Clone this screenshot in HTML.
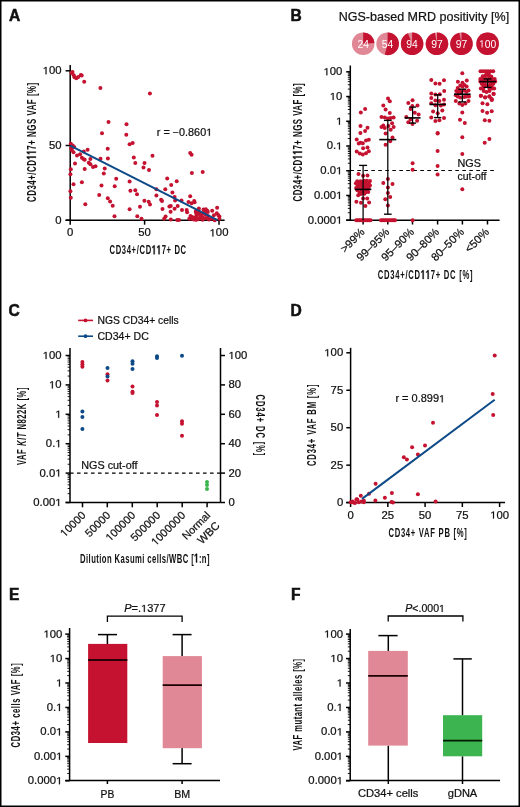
<!DOCTYPE html>
<html><head><meta charset="utf-8"><style>
html,body{margin:0;padding:0;background:#fff;}
svg{display:block;font-family:"Liberation Sans", sans-serif;}
.h1{fill-opacity:0;stroke-opacity:0;}
</style></head><body>
<svg width="520" height="807" viewBox="0 0 520 807" style="will-change:transform">
<rect width="520" height="807" fill="#fff"/>
<text x="9.00" y="20.60" font-size="15.6" text-anchor="start" font-weight="bold" fill="#111" style="stroke:#111;stroke-width:0.5">A</text>
<line x1="70.20" y1="65.00" x2="70.20" y2="220.20" stroke="#000" stroke-width="1.5" />
<line x1="65.60" y1="220.20" x2="224.60" y2="220.20" stroke="#000" stroke-width="1.5" />
<line x1="65.60" y1="220.20" x2="70.20" y2="220.20" stroke="#000" stroke-width="1.5" />
<text x="61.60" y="223.60" font-size="10.3" text-anchor="end" font-weight="normal" fill="#111" textLength="6.3" lengthAdjust="spacingAndGlyphs" style="stroke:#111;stroke-width:0.22">0</text>
<line x1="70.20" y1="220.20" x2="70.20" y2="224.70" stroke="#000" stroke-width="1.5" />
<text x="70.20" y="236.40" font-size="10.3" text-anchor="middle" font-weight="normal" fill="#111" textLength="6.3" lengthAdjust="spacingAndGlyphs" style="stroke:#111;stroke-width:0.22">0</text>
<line x1="65.60" y1="145.50" x2="70.20" y2="145.50" stroke="#000" stroke-width="1.5" />
<text x="61.60" y="148.90" font-size="10.3" text-anchor="end" font-weight="normal" fill="#111" textLength="12.6" lengthAdjust="spacingAndGlyphs" style="stroke:#111;stroke-width:0.22">50</text>
<line x1="144.60" y1="220.20" x2="144.60" y2="224.70" stroke="#000" stroke-width="1.5" />
<text x="144.60" y="236.40" font-size="10.3" text-anchor="middle" font-weight="normal" fill="#111" textLength="12.6" lengthAdjust="spacingAndGlyphs" style="stroke:#111;stroke-width:0.22">50</text>
<line x1="65.60" y1="70.80" x2="70.20" y2="70.80" stroke="#000" stroke-width="1.5" />
<text x="61.60" y="74.20" font-size="10.3" text-anchor="end" font-weight="normal" fill="#111" textLength="18.9" lengthAdjust="spacingAndGlyphs" style="stroke:#111;stroke-width:0.22"><tspan class="h1">1</tspan>00</text>
<line x1="219.00" y1="220.20" x2="219.00" y2="224.70" stroke="#000" stroke-width="1.5" />
<text x="219.00" y="236.40" font-size="10.3" text-anchor="middle" font-weight="normal" fill="#111" textLength="18.9" lengthAdjust="spacingAndGlyphs" style="stroke:#111;stroke-width:0.22"><tspan class="h1">1</tspan>00</text>
<text transform="translate(147.80,254.20) scale(0.6,1)" font-size="12.8" text-anchor="middle" font-weight="bold" fill="#111" textLength="127.83" lengthAdjust="spacing">CD34+/CD<tspan class="h1">1</tspan><tspan class="h1">1</tspan>7+ DC</text>
<text transform="translate(35.90,142.40) rotate(-90) scale(0.6,1)" font-size="13.2" text-anchor="middle" font-weight="bold" fill="#111" textLength="198.83" lengthAdjust="spacing">CD34+/CD<tspan class="h1">1</tspan><tspan class="h1">1</tspan>7+ NGS VAF [%]</text>
<text x="156.80" y="135.80" font-size="10.2" text-anchor="start" font-weight="normal" fill="#111" textLength="55.4" lengthAdjust="spacingAndGlyphs" style="stroke:#111;stroke-width:0.22">r = −0.860<tspan class="h1">1</tspan></text>
<circle cx="72.50" cy="72.00" r="2.0" fill="#C41230"/>
<circle cx="71.50" cy="72.90" r="2.0" fill="#C41230"/>
<circle cx="73.80" cy="75.20" r="2.0" fill="#C41230"/>
<circle cx="74.50" cy="77.30" r="2.0" fill="#C41230"/>
<circle cx="76.40" cy="78.20" r="2.0" fill="#C41230"/>
<circle cx="78.20" cy="77.10" r="2.0" fill="#C41230"/>
<circle cx="80.80" cy="75.00" r="2.0" fill="#C41230"/>
<circle cx="81.70" cy="75.50" r="2.0" fill="#C41230"/>
<circle cx="84.20" cy="81.70" r="2.0" fill="#C41230"/>
<circle cx="100.40" cy="87.90" r="2.0" fill="#C41230"/>
<circle cx="149.90" cy="93.40" r="2.0" fill="#C41230"/>
<circle cx="108.50" cy="122.00" r="2.0" fill="#C41230"/>
<circle cx="126.50" cy="124.20" r="2.0" fill="#C41230"/>
<circle cx="102.00" cy="133.30" r="2.0" fill="#C41230"/>
<circle cx="126.30" cy="134.80" r="2.0" fill="#C41230"/>
<circle cx="129.60" cy="144.20" r="2.0" fill="#C41230"/>
<circle cx="132.70" cy="143.00" r="2.0" fill="#C41230"/>
<circle cx="107.70" cy="148.80" r="2.0" fill="#C41230"/>
<circle cx="87.60" cy="149.70" r="2.0" fill="#C41230"/>
<circle cx="83.80" cy="151.50" r="2.0" fill="#C41230"/>
<circle cx="100.50" cy="158.70" r="2.0" fill="#C41230"/>
<circle cx="107.90" cy="158.60" r="2.0" fill="#C41230"/>
<circle cx="133.80" cy="157.60" r="2.0" fill="#C41230"/>
<circle cx="152.50" cy="155.80" r="2.0" fill="#C41230"/>
<circle cx="70.80" cy="143.80" r="2.0" fill="#C41230"/>
<circle cx="72.70" cy="145.40" r="2.0" fill="#C41230"/>
<circle cx="74.20" cy="146.90" r="2.0" fill="#C41230"/>
<circle cx="71.20" cy="148.50" r="2.0" fill="#C41230"/>
<circle cx="71.90" cy="150.00" r="2.0" fill="#C41230"/>
<circle cx="73.50" cy="152.30" r="2.0" fill="#C41230"/>
<circle cx="77.00" cy="155.40" r="2.0" fill="#C41230"/>
<circle cx="80.10" cy="154.20" r="2.0" fill="#C41230"/>
<circle cx="81.90" cy="157.70" r="2.0" fill="#C41230"/>
<circle cx="83.80" cy="159.20" r="2.0" fill="#C41230"/>
<circle cx="84.70" cy="159.70" r="2.0" fill="#C41230"/>
<circle cx="90.40" cy="158.90" r="2.0" fill="#C41230"/>
<circle cx="75.00" cy="163.40" r="2.0" fill="#C41230"/>
<circle cx="88.80" cy="162.80" r="2.0" fill="#C41230"/>
<circle cx="90.40" cy="164.20" r="2.0" fill="#C41230"/>
<circle cx="93.00" cy="166.90" r="2.0" fill="#C41230"/>
<circle cx="95.50" cy="166.20" r="2.0" fill="#C41230"/>
<circle cx="70.80" cy="169.20" r="2.0" fill="#C41230"/>
<circle cx="84.70" cy="168.90" r="2.0" fill="#C41230"/>
<circle cx="70.40" cy="174.20" r="2.0" fill="#C41230"/>
<circle cx="104.70" cy="168.50" r="2.0" fill="#C41230"/>
<circle cx="103.80" cy="173.50" r="2.0" fill="#C41230"/>
<circle cx="135.30" cy="163.10" r="2.0" fill="#C41230"/>
<circle cx="144.50" cy="162.90" r="2.0" fill="#C41230"/>
<circle cx="143.50" cy="167.50" r="2.0" fill="#C41230"/>
<circle cx="116.20" cy="178.80" r="2.0" fill="#C41230"/>
<circle cx="129.60" cy="181.50" r="2.0" fill="#C41230"/>
<circle cx="81.90" cy="182.30" r="2.0" fill="#C41230"/>
<circle cx="73.50" cy="184.30" r="2.0" fill="#C41230"/>
<circle cx="101.50" cy="185.50" r="2.0" fill="#C41230"/>
<circle cx="114.70" cy="186.20" r="2.0" fill="#C41230"/>
<circle cx="70.40" cy="191.20" r="2.0" fill="#C41230"/>
<circle cx="130.40" cy="190.80" r="2.0" fill="#C41230"/>
<circle cx="135.30" cy="190.30" r="2.0" fill="#C41230"/>
<circle cx="137.00" cy="194.20" r="2.0" fill="#C41230"/>
<circle cx="70.80" cy="197.80" r="2.0" fill="#C41230"/>
<circle cx="99.20" cy="195.10" r="2.0" fill="#C41230"/>
<circle cx="107.80" cy="198.20" r="2.0" fill="#C41230"/>
<circle cx="110.10" cy="201.50" r="2.0" fill="#C41230"/>
<circle cx="112.70" cy="205.70" r="2.0" fill="#C41230"/>
<circle cx="144.40" cy="200.70" r="2.0" fill="#C41230"/>
<circle cx="85.30" cy="204.30" r="2.0" fill="#C41230"/>
<circle cx="129.60" cy="209.20" r="2.0" fill="#C41230"/>
<circle cx="140.00" cy="206.80" r="2.0" fill="#C41230"/>
<circle cx="114.50" cy="216.20" r="2.0" fill="#C41230"/>
<circle cx="137.30" cy="216.20" r="2.0" fill="#C41230"/>
<circle cx="141.50" cy="218.80" r="2.0" fill="#C41230"/>
<circle cx="149.00" cy="170.00" r="2.0" fill="#C41230"/>
<circle cx="190.20" cy="153.00" r="2.0" fill="#C41230"/>
<circle cx="191.60" cy="154.70" r="2.0" fill="#C41230"/>
<circle cx="191.90" cy="172.90" r="2.0" fill="#C41230"/>
<circle cx="202.70" cy="172.00" r="2.0" fill="#C41230"/>
<circle cx="167.20" cy="178.40" r="2.0" fill="#C41230"/>
<circle cx="176.70" cy="181.20" r="2.0" fill="#C41230"/>
<circle cx="171.20" cy="185.00" r="2.0" fill="#C41230"/>
<circle cx="156.40" cy="189.30" r="2.0" fill="#C41230"/>
<circle cx="165.30" cy="189.30" r="2.0" fill="#C41230"/>
<circle cx="172.40" cy="192.60" r="2.0" fill="#C41230"/>
<circle cx="156.40" cy="195.40" r="2.0" fill="#C41230"/>
<circle cx="174.60" cy="197.10" r="2.0" fill="#C41230"/>
<circle cx="190.20" cy="196.20" r="2.0" fill="#C41230"/>
<circle cx="148.70" cy="201.80" r="2.0" fill="#C41230"/>
<circle cx="150.00" cy="204.40" r="2.0" fill="#C41230"/>
<circle cx="161.10" cy="199.70" r="2.0" fill="#C41230"/>
<circle cx="162.00" cy="200.90" r="2.0" fill="#C41230"/>
<circle cx="175.10" cy="200.60" r="2.0" fill="#C41230"/>
<circle cx="181.50" cy="200.60" r="2.0" fill="#C41230"/>
<circle cx="188.50" cy="202.00" r="2.0" fill="#C41230"/>
<circle cx="191.60" cy="203.20" r="2.0" fill="#C41230"/>
<circle cx="194.20" cy="201.10" r="2.0" fill="#C41230"/>
<circle cx="177.70" cy="206.10" r="2.0" fill="#C41230"/>
<circle cx="169.40" cy="206.60" r="2.0" fill="#C41230"/>
<circle cx="170.80" cy="206.10" r="2.0" fill="#C41230"/>
<circle cx="162.50" cy="208.90" r="2.0" fill="#C41230"/>
<circle cx="174.60" cy="208.70" r="2.0" fill="#C41230"/>
<circle cx="182.00" cy="210.10" r="2.0" fill="#C41230"/>
<circle cx="186.70" cy="210.10" r="2.0" fill="#C41230"/>
<circle cx="187.10" cy="212.30" r="2.0" fill="#C41230"/>
<circle cx="170.60" cy="211.80" r="2.0" fill="#C41230"/>
<circle cx="217.10" cy="207.80" r="2.0" fill="#C41230"/>
<circle cx="212.20" cy="210.70" r="2.0" fill="#C41230"/>
<circle cx="165.60" cy="216.50" r="2.0" fill="#C41230"/>
<circle cx="164.20" cy="218.70" r="2.0" fill="#C41230"/>
<circle cx="170.80" cy="219.60" r="2.0" fill="#C41230"/>
<circle cx="177.20" cy="220.00" r="2.0" fill="#C41230"/>
<circle cx="179.00" cy="220.00" r="2.0" fill="#C41230"/>
<circle cx="189.30" cy="218.80" r="2.0" fill="#C41230"/>
<circle cx="191.90" cy="217.00" r="2.0" fill="#C41230"/>
<circle cx="193.70" cy="219.60" r="2.0" fill="#C41230"/>
<circle cx="196.20" cy="219.60" r="2.0" fill="#C41230"/>
<circle cx="194.60" cy="202.30" r="2.0" fill="#C41230"/>
<circle cx="198.90" cy="208.60" r="2.0" fill="#C41230"/>
<circle cx="203.50" cy="209.50" r="2.0" fill="#C41230"/>
<circle cx="205.80" cy="209.20" r="2.0" fill="#C41230"/>
<circle cx="207.30" cy="210.70" r="2.0" fill="#C41230"/>
<circle cx="205.30" cy="211.20" r="2.0" fill="#C41230"/>
<circle cx="207.80" cy="212.10" r="2.0" fill="#C41230"/>
<circle cx="216.80" cy="213.30" r="2.0" fill="#C41230"/>
<circle cx="213.90" cy="215.30" r="2.0" fill="#C41230"/>
<circle cx="218.20" cy="215.00" r="2.0" fill="#C41230"/>
<circle cx="219.40" cy="216.40" r="2.0" fill="#C41230"/>
<circle cx="219.40" cy="218.70" r="2.0" fill="#C41230"/>
<circle cx="195.70" cy="211.80" r="2.0" fill="#C41230"/>
<circle cx="197.50" cy="213.50" r="2.0" fill="#C41230"/>
<circle cx="195.70" cy="217.60" r="2.0" fill="#C41230"/>
<circle cx="198.00" cy="219.30" r="2.0" fill="#C41230"/>
<circle cx="201.00" cy="217.00" r="2.0" fill="#C41230"/>
<circle cx="190.50" cy="216.00" r="2.0" fill="#C41230"/>
<circle cx="192.50" cy="219.00" r="2.0" fill="#C41230"/>
<circle cx="194.00" cy="217.50" r="2.0" fill="#C41230"/>
<circle cx="196.19" cy="210.69" r="2.0" fill="#C41230"/>
<circle cx="196.34" cy="213.65" r="2.0" fill="#C41230"/>
<circle cx="196.65" cy="216.01" r="2.0" fill="#C41230"/>
<circle cx="195.92" cy="219.68" r="2.0" fill="#C41230"/>
<circle cx="199.21" cy="211.90" r="2.0" fill="#C41230"/>
<circle cx="200.09" cy="215.03" r="2.0" fill="#C41230"/>
<circle cx="199.90" cy="217.94" r="2.0" fill="#C41230"/>
<circle cx="202.67" cy="213.33" r="2.0" fill="#C41230"/>
<circle cx="202.66" cy="216.95" r="2.0" fill="#C41230"/>
<circle cx="202.53" cy="219.72" r="2.0" fill="#C41230"/>
<circle cx="205.71" cy="214.76" r="2.0" fill="#C41230"/>
<circle cx="205.81" cy="218.19" r="2.0" fill="#C41230"/>
<circle cx="208.26" cy="216.24" r="2.0" fill="#C41230"/>
<circle cx="208.94" cy="219.58" r="2.0" fill="#C41230"/>
<circle cx="211.76" cy="218.61" r="2.0" fill="#C41230"/>
<circle cx="214.76" cy="220.16" r="2.0" fill="#C41230"/>
<line x1="70.20" y1="145.60" x2="217.50" y2="220.06" stroke="#0D4A87" stroke-width="2.0" />
<text x="290.60" y="20.60" font-size="15.6" text-anchor="start" font-weight="bold" fill="#111" style="stroke:#111;stroke-width:0.5">B</text>
<text x="338.70" y="20.60" font-size="13.1" text-anchor="start" font-weight="normal" fill="#111" textLength="170.5" lengthAdjust="spacingAndGlyphs" style="stroke:#111;stroke-width:0.22">NGS-based MRD positivity [%]</text>
<circle cx="363.2" cy="43.8" r="11.3" fill="#E08896"/>
<path d="M363.2,43.8 L363.2,32.5 A11.3,11.3 0 0 1 374.48,43.09 Z" fill="#C41230"/>
<text x="363.20" y="47.50" font-size="10.5" text-anchor="middle" font-weight="normal" fill="#fff" textLength="11.5" lengthAdjust="spacingAndGlyphs" style="stroke:none">24</text>
<circle cx="387.6" cy="43.8" r="11.3" fill="#E08896"/>
<path d="M387.6,43.8 L387.6,32.5 A11.3,11.3 0 1 1 384.79,54.74 Z" fill="#C41230"/>
<text x="387.60" y="47.50" font-size="10.5" text-anchor="middle" font-weight="normal" fill="#fff" textLength="11.5" lengthAdjust="spacingAndGlyphs" style="stroke:none">54</text>
<circle cx="412.1" cy="43.8" r="11.3" fill="#E08896"/>
<path d="M412.1,43.8 L412.1,32.5 A11.3,11.3 0 1 1 407.94,33.29 Z" fill="#C41230"/>
<text x="412.10" y="47.50" font-size="10.5" text-anchor="middle" font-weight="normal" fill="#fff" textLength="11.5" lengthAdjust="spacingAndGlyphs" style="stroke:none">94</text>
<circle cx="437.0" cy="43.8" r="11.3" fill="#E08896"/>
<path d="M437.0,43.8 L437.0,32.5 A11.3,11.3 0 1 1 434.88,32.70 Z" fill="#C41230"/>
<text x="437.00" y="47.50" font-size="10.5" text-anchor="middle" font-weight="normal" fill="#fff" textLength="11.5" lengthAdjust="spacingAndGlyphs" style="stroke:none">97</text>
<circle cx="461.5" cy="43.8" r="11.3" fill="#E08896"/>
<path d="M461.5,43.8 L461.5,32.5 A11.3,11.3 0 1 1 459.38,32.70 Z" fill="#C41230"/>
<text x="461.50" y="47.50" font-size="10.5" text-anchor="middle" font-weight="normal" fill="#fff" textLength="11.5" lengthAdjust="spacingAndGlyphs" style="stroke:none">97</text>
<circle cx="487.6" cy="43.8" r="11.3" fill="#E08896"/>
<circle cx="487.6" cy="43.8" r="11.3" fill="#C41230"/>
<text x="487.60" y="47.50" font-size="10.5" text-anchor="middle" font-weight="normal" fill="#fff" textLength="17.25" lengthAdjust="spacingAndGlyphs" style="stroke:none"><tspan class="h1">1</tspan>00</text>
<line x1="350.30" y1="65.50" x2="350.30" y2="220.20" stroke="#000" stroke-width="1.5" />
<line x1="346.20" y1="220.20" x2="499.60" y2="220.20" stroke="#000" stroke-width="1.5" />
<line x1="346.20" y1="71.80" x2="350.30" y2="71.80" stroke="#000" stroke-width="1.5" />
<text x="342.40" y="75.30" font-size="10.3" text-anchor="end" font-weight="normal" fill="#111" textLength="18.9" lengthAdjust="spacingAndGlyphs" style="stroke:#111;stroke-width:0.22"><tspan class="h1">1</tspan>00</text>
<line x1="347.80" y1="89.09" x2="350.30" y2="89.09" stroke="#000" stroke-width="0.9" />
<line x1="347.80" y1="84.73" x2="350.30" y2="84.73" stroke="#000" stroke-width="0.9" />
<line x1="347.80" y1="81.64" x2="350.30" y2="81.64" stroke="#000" stroke-width="0.9" />
<line x1="347.80" y1="79.24" x2="350.30" y2="79.24" stroke="#000" stroke-width="0.9" />
<line x1="347.80" y1="77.29" x2="350.30" y2="77.29" stroke="#000" stroke-width="0.9" />
<line x1="347.80" y1="75.63" x2="350.30" y2="75.63" stroke="#000" stroke-width="0.9" />
<line x1="347.80" y1="74.20" x2="350.30" y2="74.20" stroke="#000" stroke-width="0.9" />
<line x1="347.80" y1="72.93" x2="350.30" y2="72.93" stroke="#000" stroke-width="0.9" />
<line x1="346.20" y1="96.53" x2="350.30" y2="96.53" stroke="#000" stroke-width="1.5" />
<text x="342.40" y="100.03" font-size="10.3" text-anchor="end" font-weight="normal" fill="#111" textLength="12.6" lengthAdjust="spacingAndGlyphs" style="stroke:#111;stroke-width:0.22"><tspan class="h1">1</tspan>0</text>
<line x1="347.80" y1="113.82" x2="350.30" y2="113.82" stroke="#000" stroke-width="0.9" />
<line x1="347.80" y1="109.46" x2="350.30" y2="109.46" stroke="#000" stroke-width="0.9" />
<line x1="347.80" y1="106.37" x2="350.30" y2="106.37" stroke="#000" stroke-width="0.9" />
<line x1="347.80" y1="103.97" x2="350.30" y2="103.97" stroke="#000" stroke-width="0.9" />
<line x1="347.80" y1="102.02" x2="350.30" y2="102.02" stroke="#000" stroke-width="0.9" />
<line x1="347.80" y1="100.36" x2="350.30" y2="100.36" stroke="#000" stroke-width="0.9" />
<line x1="347.80" y1="98.93" x2="350.30" y2="98.93" stroke="#000" stroke-width="0.9" />
<line x1="347.80" y1="97.66" x2="350.30" y2="97.66" stroke="#000" stroke-width="0.9" />
<line x1="346.20" y1="121.26" x2="350.30" y2="121.26" stroke="#000" stroke-width="1.5" />
<text x="342.40" y="124.76" font-size="10.3" text-anchor="end" font-weight="normal" fill="#111" textLength="6.3" lengthAdjust="spacingAndGlyphs" style="stroke:#111;stroke-width:0.22"><tspan class="h1">1</tspan></text>
<line x1="347.80" y1="138.55" x2="350.30" y2="138.55" stroke="#000" stroke-width="0.9" />
<line x1="347.80" y1="134.19" x2="350.30" y2="134.19" stroke="#000" stroke-width="0.9" />
<line x1="347.80" y1="131.10" x2="350.30" y2="131.10" stroke="#000" stroke-width="0.9" />
<line x1="347.80" y1="128.70" x2="350.30" y2="128.70" stroke="#000" stroke-width="0.9" />
<line x1="347.80" y1="126.75" x2="350.30" y2="126.75" stroke="#000" stroke-width="0.9" />
<line x1="347.80" y1="125.09" x2="350.30" y2="125.09" stroke="#000" stroke-width="0.9" />
<line x1="347.80" y1="123.66" x2="350.30" y2="123.66" stroke="#000" stroke-width="0.9" />
<line x1="347.80" y1="122.39" x2="350.30" y2="122.39" stroke="#000" stroke-width="0.9" />
<line x1="346.20" y1="145.99" x2="350.30" y2="145.99" stroke="#000" stroke-width="1.5" />
<text x="342.40" y="149.49" font-size="10.3" text-anchor="end" font-weight="normal" fill="#111" textLength="15.75" lengthAdjust="spacingAndGlyphs" style="stroke:#111;stroke-width:0.22">0.<tspan class="h1">1</tspan></text>
<line x1="347.80" y1="163.28" x2="350.30" y2="163.28" stroke="#000" stroke-width="0.9" />
<line x1="347.80" y1="158.92" x2="350.30" y2="158.92" stroke="#000" stroke-width="0.9" />
<line x1="347.80" y1="155.83" x2="350.30" y2="155.83" stroke="#000" stroke-width="0.9" />
<line x1="347.80" y1="153.43" x2="350.30" y2="153.43" stroke="#000" stroke-width="0.9" />
<line x1="347.80" y1="151.48" x2="350.30" y2="151.48" stroke="#000" stroke-width="0.9" />
<line x1="347.80" y1="149.82" x2="350.30" y2="149.82" stroke="#000" stroke-width="0.9" />
<line x1="347.80" y1="148.39" x2="350.30" y2="148.39" stroke="#000" stroke-width="0.9" />
<line x1="347.80" y1="147.12" x2="350.30" y2="147.12" stroke="#000" stroke-width="0.9" />
<line x1="346.20" y1="170.72" x2="350.30" y2="170.72" stroke="#000" stroke-width="1.5" />
<text x="342.40" y="174.22" font-size="10.3" text-anchor="end" font-weight="normal" fill="#111" textLength="22.05" lengthAdjust="spacingAndGlyphs" style="stroke:#111;stroke-width:0.22">0.0<tspan class="h1">1</tspan></text>
<line x1="347.80" y1="188.01" x2="350.30" y2="188.01" stroke="#000" stroke-width="0.9" />
<line x1="347.80" y1="183.65" x2="350.30" y2="183.65" stroke="#000" stroke-width="0.9" />
<line x1="347.80" y1="180.56" x2="350.30" y2="180.56" stroke="#000" stroke-width="0.9" />
<line x1="347.80" y1="178.16" x2="350.30" y2="178.16" stroke="#000" stroke-width="0.9" />
<line x1="347.80" y1="176.21" x2="350.30" y2="176.21" stroke="#000" stroke-width="0.9" />
<line x1="347.80" y1="174.55" x2="350.30" y2="174.55" stroke="#000" stroke-width="0.9" />
<line x1="347.80" y1="173.12" x2="350.30" y2="173.12" stroke="#000" stroke-width="0.9" />
<line x1="347.80" y1="171.85" x2="350.30" y2="171.85" stroke="#000" stroke-width="0.9" />
<line x1="346.20" y1="195.45" x2="350.30" y2="195.45" stroke="#000" stroke-width="1.5" />
<text x="342.40" y="198.95" font-size="10.3" text-anchor="end" font-weight="normal" fill="#111" textLength="28.35" lengthAdjust="spacingAndGlyphs" style="stroke:#111;stroke-width:0.22">0.00<tspan class="h1">1</tspan></text>
<line x1="347.80" y1="212.74" x2="350.30" y2="212.74" stroke="#000" stroke-width="0.9" />
<line x1="347.80" y1="208.38" x2="350.30" y2="208.38" stroke="#000" stroke-width="0.9" />
<line x1="347.80" y1="205.29" x2="350.30" y2="205.29" stroke="#000" stroke-width="0.9" />
<line x1="347.80" y1="202.89" x2="350.30" y2="202.89" stroke="#000" stroke-width="0.9" />
<line x1="347.80" y1="200.94" x2="350.30" y2="200.94" stroke="#000" stroke-width="0.9" />
<line x1="347.80" y1="199.28" x2="350.30" y2="199.28" stroke="#000" stroke-width="0.9" />
<line x1="347.80" y1="197.85" x2="350.30" y2="197.85" stroke="#000" stroke-width="0.9" />
<line x1="347.80" y1="196.58" x2="350.30" y2="196.58" stroke="#000" stroke-width="0.9" />
<line x1="346.20" y1="220.18" x2="350.30" y2="220.18" stroke="#000" stroke-width="1.5" />
<text x="342.40" y="223.68" font-size="10.3" text-anchor="end" font-weight="normal" fill="#111" textLength="34.65" lengthAdjust="spacingAndGlyphs" style="stroke:#111;stroke-width:0.22">0.000<tspan class="h1">1</tspan></text>
<text transform="translate(302.00,142.40) rotate(-90) scale(0.6,1)" font-size="13.2" text-anchor="middle" font-weight="bold" fill="#111" textLength="197.17" lengthAdjust="spacing">CD34+/CD<tspan class="h1">1</tspan><tspan class="h1">1</tspan>7+ NGS VAF [%]</text>
<line x1="363.10" y1="220.20" x2="363.10" y2="224.50" stroke="#000" stroke-width="1.5" />
<line x1="387.80" y1="220.20" x2="387.80" y2="224.50" stroke="#000" stroke-width="1.5" />
<line x1="412.50" y1="220.20" x2="412.50" y2="224.50" stroke="#000" stroke-width="1.5" />
<line x1="437.60" y1="220.20" x2="437.60" y2="224.50" stroke="#000" stroke-width="1.5" />
<line x1="462.40" y1="220.20" x2="462.40" y2="224.50" stroke="#000" stroke-width="1.5" />
<line x1="487.50" y1="220.20" x2="487.50" y2="224.50" stroke="#000" stroke-width="1.5" />
<text transform="translate(365.40,232.80) rotate(-45)" font-size="11.2" text-anchor="end" font-weight="normal" fill="#111" style="stroke:#111;stroke-width:0.22">&gt;99%</text>
<text transform="translate(390.10,232.80) rotate(-45)" font-size="11.2" text-anchor="end" font-weight="normal" fill="#111" style="stroke:#111;stroke-width:0.22">99–95%</text>
<text transform="translate(414.80,232.80) rotate(-45)" font-size="11.2" text-anchor="end" font-weight="normal" fill="#111" style="stroke:#111;stroke-width:0.22">95–90%</text>
<text transform="translate(439.90,232.80) rotate(-45)" font-size="11.2" text-anchor="end" font-weight="normal" fill="#111" style="stroke:#111;stroke-width:0.22">90–80%</text>
<text transform="translate(464.70,232.80) rotate(-45)" font-size="11.2" text-anchor="end" font-weight="normal" fill="#111" style="stroke:#111;stroke-width:0.22">80–50%</text>
<text transform="translate(489.80,232.80) rotate(-45)" font-size="11.2" text-anchor="end" font-weight="normal" fill="#111" style="stroke:#111;stroke-width:0.22">&lt;50%</text>
<text transform="translate(425.20,279.00) scale(0.6,1)" font-size="12.8" text-anchor="middle" font-weight="bold" fill="#111" textLength="158.00" lengthAdjust="spacing">CD34+/CD<tspan class="h1">1</tspan><tspan class="h1">1</tspan>7+ DC [%]</text>
<line x1="350.30" y1="170.50" x2="496.50" y2="170.50" stroke="#000" stroke-width="1.2" stroke-dasharray="3.6 3.4"/>
<text x="457.50" y="167.30" font-size="10.3" text-anchor="start" font-weight="normal" fill="#111" textLength="23.5" lengthAdjust="spacingAndGlyphs" style="stroke:#111;stroke-width:0.22">NGS</text>
<text x="457.50" y="180.30" font-size="10.3" text-anchor="start" font-weight="normal" fill="#111" textLength="28.9" lengthAdjust="spacingAndGlyphs" style="stroke:#111;stroke-width:0.22">cut-off</text>
<circle cx="365.10" cy="108.90" r="2.0" fill="#C41230"/>
<circle cx="360.80" cy="112.50" r="2.0" fill="#C41230"/>
<circle cx="360.50" cy="126.00" r="2.0" fill="#C41230"/>
<circle cx="367.50" cy="127.70" r="2.0" fill="#C41230"/>
<circle cx="365.10" cy="131.10" r="2.0" fill="#C41230"/>
<circle cx="360.40" cy="132.90" r="2.0" fill="#C41230"/>
<circle cx="356.70" cy="139.60" r="2.0" fill="#C41230"/>
<circle cx="358.70" cy="143.60" r="2.0" fill="#C41230"/>
<circle cx="360.50" cy="142.70" r="2.0" fill="#C41230"/>
<circle cx="362.80" cy="143.30" r="2.0" fill="#C41230"/>
<circle cx="366.00" cy="140.40" r="2.0" fill="#C41230"/>
<circle cx="368.80" cy="139.80" r="2.0" fill="#C41230"/>
<circle cx="363.10" cy="148.20" r="2.0" fill="#C41230"/>
<circle cx="367.50" cy="147.50" r="2.0" fill="#C41230"/>
<circle cx="356.70" cy="151.60" r="2.0" fill="#C41230"/>
<circle cx="359.80" cy="153.60" r="2.0" fill="#C41230"/>
<circle cx="362.80" cy="154.40" r="2.0" fill="#C41230"/>
<circle cx="366.00" cy="153.30" r="2.0" fill="#C41230"/>
<circle cx="368.80" cy="151.30" r="2.0" fill="#C41230"/>
<circle cx="358.50" cy="173.90" r="2.0" fill="#C41230"/>
<circle cx="363.10" cy="175.80" r="2.0" fill="#C41230"/>
<circle cx="367.50" cy="175.40" r="2.0" fill="#C41230"/>
<circle cx="358.20" cy="195.20" r="2.0" fill="#C41230"/>
<circle cx="363.10" cy="198.60" r="2.0" fill="#C41230"/>
<circle cx="367.20" cy="198.40" r="2.0" fill="#C41230"/>
<circle cx="356.40" cy="201.80" r="2.0" fill="#C41230"/>
<circle cx="361.00" cy="202.80" r="2.0" fill="#C41230"/>
<circle cx="369.10" cy="202.50" r="2.0" fill="#C41230"/>
<circle cx="365.40" cy="206.10" r="2.0" fill="#C41230"/>
<circle cx="357.22" cy="181.18" r="2.0" fill="#C41230"/>
<circle cx="360.56" cy="181.26" r="2.0" fill="#C41230"/>
<circle cx="364.20" cy="180.76" r="2.0" fill="#C41230"/>
<circle cx="366.91" cy="180.83" r="2.0" fill="#C41230"/>
<circle cx="369.97" cy="180.96" r="2.0" fill="#C41230"/>
<circle cx="355.90" cy="183.18" r="2.0" fill="#C41230"/>
<circle cx="358.91" cy="183.23" r="2.0" fill="#C41230"/>
<circle cx="362.08" cy="183.35" r="2.0" fill="#C41230"/>
<circle cx="365.57" cy="183.54" r="2.0" fill="#C41230"/>
<circle cx="368.85" cy="183.56" r="2.0" fill="#C41230"/>
<circle cx="357.49" cy="185.89" r="2.0" fill="#C41230"/>
<circle cx="360.64" cy="185.40" r="2.0" fill="#C41230"/>
<circle cx="364.09" cy="185.88" r="2.0" fill="#C41230"/>
<circle cx="367.42" cy="185.64" r="2.0" fill="#C41230"/>
<circle cx="369.97" cy="185.43" r="2.0" fill="#C41230"/>
<circle cx="356.17" cy="187.94" r="2.0" fill="#C41230"/>
<circle cx="358.73" cy="187.64" r="2.0" fill="#C41230"/>
<circle cx="362.48" cy="188.19" r="2.0" fill="#C41230"/>
<circle cx="365.17" cy="188.08" r="2.0" fill="#C41230"/>
<circle cx="368.63" cy="187.69" r="2.0" fill="#C41230"/>
<circle cx="357.34" cy="190.36" r="2.0" fill="#C41230"/>
<circle cx="361.10" cy="189.93" r="2.0" fill="#C41230"/>
<circle cx="364.19" cy="189.93" r="2.0" fill="#C41230"/>
<circle cx="367.57" cy="190.10" r="2.0" fill="#C41230"/>
<circle cx="359.50" cy="192.69" r="2.0" fill="#C41230"/>
<circle cx="362.50" cy="192.70" r="2.0" fill="#C41230"/>
<circle cx="365.65" cy="192.15" r="2.0" fill="#C41230"/>
<circle cx="368.28" cy="192.12" r="2.0" fill="#C41230"/>
<circle cx="360.76" cy="193.94" r="2.0" fill="#C41230"/>
<circle cx="364.39" cy="193.79" r="2.0" fill="#C41230"/>
<circle cx="356.20" cy="220.20" r="2.0" fill="#C41230"/>
<circle cx="357.80" cy="220.20" r="2.0" fill="#C41230"/>
<circle cx="359.40" cy="220.20" r="2.0" fill="#C41230"/>
<circle cx="361.00" cy="220.20" r="2.0" fill="#C41230"/>
<circle cx="362.60" cy="220.20" r="2.0" fill="#C41230"/>
<circle cx="364.20" cy="220.20" r="2.0" fill="#C41230"/>
<circle cx="365.80" cy="220.20" r="2.0" fill="#C41230"/>
<circle cx="367.40" cy="220.20" r="2.0" fill="#C41230"/>
<circle cx="369.00" cy="220.20" r="2.0" fill="#C41230"/>
<circle cx="370.50" cy="220.20" r="2.0" fill="#C41230"/>
<circle cx="389.80" cy="101.20" r="2.0" fill="#C41230"/>
<circle cx="388.00" cy="98.50" r="2.0" fill="#C41230"/>
<circle cx="383.30" cy="105.50" r="2.0" fill="#C41230"/>
<circle cx="385.60" cy="109.50" r="2.0" fill="#C41230"/>
<circle cx="389.80" cy="112.90" r="2.0" fill="#C41230"/>
<circle cx="381.50" cy="117.10" r="2.0" fill="#C41230"/>
<circle cx="384.80" cy="117.50" r="2.0" fill="#C41230"/>
<circle cx="387.90" cy="118.50" r="2.0" fill="#C41230"/>
<circle cx="390.70" cy="117.90" r="2.0" fill="#C41230"/>
<circle cx="393.60" cy="117.50" r="2.0" fill="#C41230"/>
<circle cx="392.10" cy="123.30" r="2.0" fill="#C41230"/>
<circle cx="383.30" cy="125.60" r="2.0" fill="#C41230"/>
<circle cx="381.50" cy="127.10" r="2.0" fill="#C41230"/>
<circle cx="384.80" cy="127.90" r="2.0" fill="#C41230"/>
<circle cx="388.40" cy="126.00" r="2.0" fill="#C41230"/>
<circle cx="390.70" cy="129.80" r="2.0" fill="#C41230"/>
<circle cx="393.60" cy="127.10" r="2.0" fill="#C41230"/>
<circle cx="385.60" cy="133.40" r="2.0" fill="#C41230"/>
<circle cx="392.50" cy="137.50" r="2.0" fill="#C41230"/>
<circle cx="390.20" cy="141.30" r="2.0" fill="#C41230"/>
<circle cx="385.60" cy="144.80" r="2.0" fill="#C41230"/>
<circle cx="387.90" cy="179.00" r="2.0" fill="#C41230"/>
<circle cx="383.30" cy="183.10" r="2.0" fill="#C41230"/>
<circle cx="392.50" cy="184.00" r="2.0" fill="#C41230"/>
<circle cx="387.90" cy="187.50" r="2.0" fill="#C41230"/>
<circle cx="387.90" cy="193.10" r="2.0" fill="#C41230"/>
<circle cx="390.20" cy="197.10" r="2.0" fill="#C41230"/>
<circle cx="385.30" cy="199.20" r="2.0" fill="#C41230"/>
<circle cx="387.90" cy="205.60" r="2.0" fill="#C41230"/>
<circle cx="381.00" cy="220.20" r="2.0" fill="#C41230"/>
<circle cx="382.60" cy="220.20" r="2.0" fill="#C41230"/>
<circle cx="384.20" cy="220.20" r="2.0" fill="#C41230"/>
<circle cx="385.80" cy="220.20" r="2.0" fill="#C41230"/>
<circle cx="387.40" cy="220.20" r="2.0" fill="#C41230"/>
<circle cx="389.00" cy="220.20" r="2.0" fill="#C41230"/>
<circle cx="390.60" cy="220.20" r="2.0" fill="#C41230"/>
<circle cx="392.20" cy="220.20" r="2.0" fill="#C41230"/>
<circle cx="393.80" cy="220.20" r="2.0" fill="#C41230"/>
<circle cx="395.00" cy="220.20" r="2.0" fill="#C41230"/>
<circle cx="412.50" cy="100.20" r="2.0" fill="#C41230"/>
<circle cx="408.30" cy="102.90" r="2.0" fill="#C41230"/>
<circle cx="417.50" cy="105.50" r="2.0" fill="#C41230"/>
<circle cx="412.30" cy="106.00" r="2.0" fill="#C41230"/>
<circle cx="410.60" cy="109.00" r="2.0" fill="#C41230"/>
<circle cx="414.80" cy="112.70" r="2.0" fill="#C41230"/>
<circle cx="418.60" cy="114.40" r="2.0" fill="#C41230"/>
<circle cx="406.30" cy="117.10" r="2.0" fill="#C41230"/>
<circle cx="410.60" cy="119.40" r="2.0" fill="#C41230"/>
<circle cx="417.10" cy="120.70" r="2.0" fill="#C41230"/>
<circle cx="408.30" cy="122.20" r="2.0" fill="#C41230"/>
<circle cx="412.50" cy="124.00" r="2.0" fill="#C41230"/>
<circle cx="412.60" cy="163.20" r="2.0" fill="#C41230"/>
<circle cx="412.60" cy="169.80" r="2.0" fill="#C41230"/>
<circle cx="412.60" cy="220.20" r="2.0" fill="#C41230"/>
<circle cx="431.30" cy="80.00" r="2.0" fill="#C41230"/>
<circle cx="444.00" cy="80.20" r="2.0" fill="#C41230"/>
<circle cx="435.40" cy="83.60" r="2.0" fill="#C41230"/>
<circle cx="439.60" cy="83.80" r="2.0" fill="#C41230"/>
<circle cx="444.20" cy="91.10" r="2.0" fill="#C41230"/>
<circle cx="431.30" cy="93.60" r="2.0" fill="#C41230"/>
<circle cx="435.40" cy="94.50" r="2.0" fill="#C41230"/>
<circle cx="439.80" cy="94.20" r="2.0" fill="#C41230"/>
<circle cx="431.30" cy="98.00" r="2.0" fill="#C41230"/>
<circle cx="435.40" cy="100.60" r="2.0" fill="#C41230"/>
<circle cx="439.40" cy="101.10" r="2.0" fill="#C41230"/>
<circle cx="444.00" cy="99.80" r="2.0" fill="#C41230"/>
<circle cx="431.30" cy="103.20" r="2.0" fill="#C41230"/>
<circle cx="435.40" cy="105.20" r="2.0" fill="#C41230"/>
<circle cx="440.90" cy="105.50" r="2.0" fill="#C41230"/>
<circle cx="444.00" cy="104.60" r="2.0" fill="#C41230"/>
<circle cx="433.10" cy="111.50" r="2.0" fill="#C41230"/>
<circle cx="437.70" cy="113.30" r="2.0" fill="#C41230"/>
<circle cx="442.30" cy="110.40" r="2.0" fill="#C41230"/>
<circle cx="431.30" cy="117.60" r="2.0" fill="#C41230"/>
<circle cx="435.40" cy="121.10" r="2.0" fill="#C41230"/>
<circle cx="439.40" cy="120.20" r="2.0" fill="#C41230"/>
<circle cx="444.00" cy="117.90" r="2.0" fill="#C41230"/>
<circle cx="437.70" cy="132.90" r="2.0" fill="#C41230"/>
<circle cx="437.60" cy="133.50" r="2.0" fill="#C41230"/>
<circle cx="437.60" cy="150.90" r="2.0" fill="#C41230"/>
<circle cx="437.60" cy="165.90" r="2.0" fill="#C41230"/>
<circle cx="437.60" cy="174.50" r="2.0" fill="#C41230"/>
<circle cx="462.30" cy="73.20" r="2.0" fill="#C41230"/>
<circle cx="457.90" cy="81.70" r="2.0" fill="#C41230"/>
<circle cx="466.80" cy="80.50" r="2.0" fill="#C41230"/>
<circle cx="462.50" cy="82.70" r="2.0" fill="#C41230"/>
<circle cx="460.30" cy="85.60" r="2.0" fill="#C41230"/>
<circle cx="464.40" cy="85.10" r="2.0" fill="#C41230"/>
<circle cx="466.60" cy="86.50" r="2.0" fill="#C41230"/>
<circle cx="462.50" cy="86.50" r="2.0" fill="#C41230"/>
<circle cx="457.70" cy="88.00" r="2.0" fill="#C41230"/>
<circle cx="456.30" cy="90.90" r="2.0" fill="#C41230"/>
<circle cx="468.50" cy="90.60" r="2.0" fill="#C41230"/>
<circle cx="459.60" cy="90.40" r="2.0" fill="#C41230"/>
<circle cx="463.90" cy="90.40" r="2.0" fill="#C41230"/>
<circle cx="466.30" cy="91.80" r="2.0" fill="#C41230"/>
<circle cx="460.60" cy="92.30" r="2.0" fill="#C41230"/>
<circle cx="458.20" cy="92.30" r="2.0" fill="#C41230"/>
<circle cx="455.80" cy="95.20" r="2.0" fill="#C41230"/>
<circle cx="457.70" cy="96.60" r="2.0" fill="#C41230"/>
<circle cx="460.10" cy="97.60" r="2.0" fill="#C41230"/>
<circle cx="464.40" cy="97.10" r="2.0" fill="#C41230"/>
<circle cx="466.80" cy="96.40" r="2.0" fill="#C41230"/>
<circle cx="469.00" cy="96.60" r="2.0" fill="#C41230"/>
<circle cx="455.80" cy="101.00" r="2.0" fill="#C41230"/>
<circle cx="468.50" cy="101.00" r="2.0" fill="#C41230"/>
<circle cx="459.40" cy="103.40" r="2.0" fill="#C41230"/>
<circle cx="462.30" cy="105.00" r="2.0" fill="#C41230"/>
<circle cx="465.40" cy="103.40" r="2.0" fill="#C41230"/>
<circle cx="462.30" cy="112.50" r="2.0" fill="#C41230"/>
<circle cx="460.00" cy="119.70" r="2.0" fill="#C41230"/>
<circle cx="464.80" cy="122.90" r="2.0" fill="#C41230"/>
<circle cx="480.50" cy="71.30" r="2.0" fill="#C41230"/>
<circle cx="483.00" cy="71.30" r="2.0" fill="#C41230"/>
<circle cx="485.50" cy="71.30" r="2.0" fill="#C41230"/>
<circle cx="488.00" cy="71.30" r="2.0" fill="#C41230"/>
<circle cx="490.50" cy="71.30" r="2.0" fill="#C41230"/>
<circle cx="493.20" cy="71.30" r="2.0" fill="#C41230"/>
<circle cx="486.50" cy="73.90" r="2.0" fill="#C41230"/>
<circle cx="488.90" cy="74.10" r="2.0" fill="#C41230"/>
<circle cx="482.70" cy="76.30" r="2.0" fill="#C41230"/>
<circle cx="485.10" cy="75.80" r="2.0" fill="#C41230"/>
<circle cx="488.50" cy="76.00" r="2.0" fill="#C41230"/>
<circle cx="491.30" cy="76.50" r="2.0" fill="#C41230"/>
<circle cx="480.30" cy="79.00" r="2.0" fill="#C41230"/>
<circle cx="483.20" cy="79.00" r="2.0" fill="#C41230"/>
<circle cx="486.00" cy="79.00" r="2.0" fill="#C41230"/>
<circle cx="489.40" cy="79.00" r="2.0" fill="#C41230"/>
<circle cx="492.30" cy="79.00" r="2.0" fill="#C41230"/>
<circle cx="494.70" cy="79.00" r="2.0" fill="#C41230"/>
<circle cx="480.30" cy="81.50" r="2.0" fill="#C41230"/>
<circle cx="483.50" cy="81.50" r="2.0" fill="#C41230"/>
<circle cx="486.50" cy="81.50" r="2.0" fill="#C41230"/>
<circle cx="489.50" cy="81.50" r="2.0" fill="#C41230"/>
<circle cx="492.50" cy="81.50" r="2.0" fill="#C41230"/>
<circle cx="495.20" cy="81.50" r="2.0" fill="#C41230"/>
<circle cx="481.70" cy="83.80" r="2.0" fill="#C41230"/>
<circle cx="484.60" cy="83.80" r="2.0" fill="#C41230"/>
<circle cx="490.40" cy="83.80" r="2.0" fill="#C41230"/>
<circle cx="493.30" cy="83.80" r="2.0" fill="#C41230"/>
<circle cx="483.20" cy="85.80" r="2.0" fill="#C41230"/>
<circle cx="485.60" cy="85.80" r="2.0" fill="#C41230"/>
<circle cx="489.40" cy="85.80" r="2.0" fill="#C41230"/>
<circle cx="491.80" cy="85.80" r="2.0" fill="#C41230"/>
<circle cx="480.80" cy="88.60" r="2.0" fill="#C41230"/>
<circle cx="483.20" cy="88.60" r="2.0" fill="#C41230"/>
<circle cx="489.40" cy="88.60" r="2.0" fill="#C41230"/>
<circle cx="491.80" cy="88.60" r="2.0" fill="#C41230"/>
<circle cx="494.20" cy="88.60" r="2.0" fill="#C41230"/>
<circle cx="483.70" cy="91.00" r="2.0" fill="#C41230"/>
<circle cx="486.50" cy="91.90" r="2.0" fill="#C41230"/>
<circle cx="489.40" cy="91.00" r="2.0" fill="#C41230"/>
<circle cx="480.80" cy="95.80" r="2.0" fill="#C41230"/>
<circle cx="485.10" cy="97.20" r="2.0" fill="#C41230"/>
<circle cx="489.40" cy="96.30" r="2.0" fill="#C41230"/>
<circle cx="493.50" cy="93.80" r="2.0" fill="#C41230"/>
<circle cx="491.60" cy="99.10" r="2.0" fill="#C41230"/>
<circle cx="481.00" cy="95.80" r="2.0" fill="#C41230"/>
<circle cx="485.10" cy="97.50" r="2.0" fill="#C41230"/>
<circle cx="489.40" cy="96.70" r="2.0" fill="#C41230"/>
<circle cx="493.70" cy="94.00" r="2.0" fill="#C41230"/>
<circle cx="491.70" cy="99.60" r="2.0" fill="#C41230"/>
<circle cx="482.50" cy="103.30" r="2.0" fill="#C41230"/>
<circle cx="487.40" cy="104.20" r="2.0" fill="#C41230"/>
<circle cx="482.50" cy="111.10" r="2.0" fill="#C41230"/>
<circle cx="487.10" cy="112.80" r="2.0" fill="#C41230"/>
<circle cx="491.70" cy="111.30" r="2.0" fill="#C41230"/>
<circle cx="484.80" cy="120.30" r="2.0" fill="#C41230"/>
<circle cx="489.40" cy="120.80" r="2.0" fill="#C41230"/>
<circle cx="489.40" cy="139.00" r="2.0" fill="#C41230"/>
<circle cx="484.70" cy="142.80" r="2.0" fill="#C41230"/>
<circle cx="491.80" cy="100.00" r="2.0" fill="#C41230"/>
<circle cx="462.30" cy="137.20" r="2.0" fill="#C41230"/>
<circle cx="462.30" cy="153.90" r="2.0" fill="#C41230"/>
<circle cx="462.30" cy="189.20" r="2.0" fill="#C41230"/>
<line x1="363.10" y1="165.40" x2="363.10" y2="220.20" stroke="#000" stroke-width="1.25" />
<line x1="359.10" y1="165.40" x2="367.10" y2="165.40" stroke="#000" stroke-width="1.35" />
<line x1="354.80" y1="189.40" x2="371.40" y2="189.40" stroke="#000" stroke-width="1.6" />
<line x1="387.80" y1="120.40" x2="387.80" y2="214.20" stroke="#000" stroke-width="1.25" />
<line x1="383.95" y1="120.40" x2="391.65" y2="120.40" stroke="#000" stroke-width="1.35" />
<line x1="383.95" y1="214.20" x2="391.65" y2="214.20" stroke="#000" stroke-width="1.35" />
<line x1="379.30" y1="139.60" x2="396.30" y2="139.60" stroke="#000" stroke-width="1.6" />
<line x1="412.60" y1="107.10" x2="412.60" y2="123.10" stroke="#000" stroke-width="1.25" />
<line x1="409.10" y1="107.10" x2="416.10" y2="107.10" stroke="#000" stroke-width="1.35" />
<line x1="409.10" y1="123.10" x2="416.10" y2="123.10" stroke="#000" stroke-width="1.35" />
<line x1="404.70" y1="117.90" x2="420.50" y2="117.90" stroke="#000" stroke-width="1.6" />
<line x1="437.70" y1="94.80" x2="437.70" y2="117.60" stroke="#000" stroke-width="1.25" />
<line x1="434.10" y1="94.80" x2="441.30" y2="94.80" stroke="#000" stroke-width="1.35" />
<line x1="434.10" y1="117.60" x2="441.30" y2="117.60" stroke="#000" stroke-width="1.35" />
<line x1="429.50" y1="104.40" x2="445.90" y2="104.40" stroke="#000" stroke-width="1.6" />
<line x1="462.30" y1="89.20" x2="462.30" y2="101.90" stroke="#000" stroke-width="1.25" />
<line x1="458.45" y1="89.20" x2="466.15" y2="89.20" stroke="#000" stroke-width="1.35" />
<line x1="458.45" y1="101.90" x2="466.15" y2="101.90" stroke="#000" stroke-width="1.35" />
<line x1="454.00" y1="94.20" x2="470.60" y2="94.20" stroke="#000" stroke-width="1.6" />
<line x1="487.60" y1="78.90" x2="487.60" y2="87.40" stroke="#000" stroke-width="1.25" />
<line x1="483.65" y1="78.90" x2="491.55" y2="78.90" stroke="#000" stroke-width="1.35" />
<line x1="483.65" y1="87.40" x2="491.55" y2="87.40" stroke="#000" stroke-width="1.35" />
<line x1="479.30" y1="81.60" x2="495.90" y2="81.60" stroke="#000" stroke-width="1.6" />
<text x="8.60" y="316.10" font-size="15.6" text-anchor="start" font-weight="bold" fill="#111" style="stroke:#111;stroke-width:0.5">C</text>
<line x1="78.20" y1="320.40" x2="93.00" y2="320.40" stroke="#C41230" stroke-width="1.6" />
<circle cx="85.50" cy="320.40" r="1.9" fill="#C41230"/>
<line x1="78.20" y1="336.20" x2="93.00" y2="336.20" stroke="#0D4A87" stroke-width="1.6" />
<circle cx="85.50" cy="336.20" r="1.9" fill="#0D4A87"/>
<text x="97.50" y="323.90" font-size="10.4" text-anchor="start" font-weight="normal" fill="#111" textLength="81.3" lengthAdjust="spacingAndGlyphs" style="stroke:#111;stroke-width:0.22">NGS CD34+ cells</text>
<text x="97.50" y="339.50" font-size="10.4" text-anchor="start" font-weight="normal" fill="#111" textLength="51.3" lengthAdjust="spacingAndGlyphs" style="stroke:#111;stroke-width:0.22">CD34+ DC</text>
<line x1="70.00" y1="348.00" x2="70.00" y2="502.50" stroke="#000" stroke-width="1.5" />
<line x1="220.50" y1="348.00" x2="220.50" y2="502.50" stroke="#000" stroke-width="1.5" />
<line x1="65.60" y1="502.50" x2="220.50" y2="502.50" stroke="#000" stroke-width="1.5" />
<line x1="65.60" y1="355.50" x2="70.00" y2="355.50" stroke="#000" stroke-width="1.5" />
<text x="61.60" y="359.00" font-size="10.3" text-anchor="end" font-weight="normal" fill="#111" textLength="18.9" lengthAdjust="spacingAndGlyphs" style="stroke:#111;stroke-width:0.22"><tspan class="h1">1</tspan>00</text>
<line x1="67.60" y1="376.05" x2="70.00" y2="376.05" stroke="#000" stroke-width="0.9" />
<line x1="67.60" y1="370.87" x2="70.00" y2="370.87" stroke="#000" stroke-width="0.9" />
<line x1="67.60" y1="367.20" x2="70.00" y2="367.20" stroke="#000" stroke-width="0.9" />
<line x1="67.60" y1="364.35" x2="70.00" y2="364.35" stroke="#000" stroke-width="0.9" />
<line x1="67.60" y1="362.02" x2="70.00" y2="362.02" stroke="#000" stroke-width="0.9" />
<line x1="67.60" y1="360.05" x2="70.00" y2="360.05" stroke="#000" stroke-width="0.9" />
<line x1="67.60" y1="358.35" x2="70.00" y2="358.35" stroke="#000" stroke-width="0.9" />
<line x1="67.60" y1="356.85" x2="70.00" y2="356.85" stroke="#000" stroke-width="0.9" />
<line x1="65.60" y1="384.90" x2="70.00" y2="384.90" stroke="#000" stroke-width="1.5" />
<text x="61.60" y="388.40" font-size="10.3" text-anchor="end" font-weight="normal" fill="#111" textLength="12.6" lengthAdjust="spacingAndGlyphs" style="stroke:#111;stroke-width:0.22"><tspan class="h1">1</tspan>0</text>
<line x1="67.60" y1="405.45" x2="70.00" y2="405.45" stroke="#000" stroke-width="0.9" />
<line x1="67.60" y1="400.27" x2="70.00" y2="400.27" stroke="#000" stroke-width="0.9" />
<line x1="67.60" y1="396.60" x2="70.00" y2="396.60" stroke="#000" stroke-width="0.9" />
<line x1="67.60" y1="393.75" x2="70.00" y2="393.75" stroke="#000" stroke-width="0.9" />
<line x1="67.60" y1="391.42" x2="70.00" y2="391.42" stroke="#000" stroke-width="0.9" />
<line x1="67.60" y1="389.45" x2="70.00" y2="389.45" stroke="#000" stroke-width="0.9" />
<line x1="67.60" y1="387.75" x2="70.00" y2="387.75" stroke="#000" stroke-width="0.9" />
<line x1="67.60" y1="386.25" x2="70.00" y2="386.25" stroke="#000" stroke-width="0.9" />
<line x1="65.60" y1="414.30" x2="70.00" y2="414.30" stroke="#000" stroke-width="1.5" />
<text x="61.60" y="417.80" font-size="10.3" text-anchor="end" font-weight="normal" fill="#111" textLength="6.3" lengthAdjust="spacingAndGlyphs" style="stroke:#111;stroke-width:0.22"><tspan class="h1">1</tspan></text>
<line x1="67.60" y1="434.85" x2="70.00" y2="434.85" stroke="#000" stroke-width="0.9" />
<line x1="67.60" y1="429.67" x2="70.00" y2="429.67" stroke="#000" stroke-width="0.9" />
<line x1="67.60" y1="426.00" x2="70.00" y2="426.00" stroke="#000" stroke-width="0.9" />
<line x1="67.60" y1="423.15" x2="70.00" y2="423.15" stroke="#000" stroke-width="0.9" />
<line x1="67.60" y1="420.82" x2="70.00" y2="420.82" stroke="#000" stroke-width="0.9" />
<line x1="67.60" y1="418.85" x2="70.00" y2="418.85" stroke="#000" stroke-width="0.9" />
<line x1="67.60" y1="417.15" x2="70.00" y2="417.15" stroke="#000" stroke-width="0.9" />
<line x1="67.60" y1="415.65" x2="70.00" y2="415.65" stroke="#000" stroke-width="0.9" />
<line x1="65.60" y1="443.70" x2="70.00" y2="443.70" stroke="#000" stroke-width="1.5" />
<text x="61.60" y="447.20" font-size="10.3" text-anchor="end" font-weight="normal" fill="#111" textLength="15.75" lengthAdjust="spacingAndGlyphs" style="stroke:#111;stroke-width:0.22">0.<tspan class="h1">1</tspan></text>
<line x1="67.60" y1="464.25" x2="70.00" y2="464.25" stroke="#000" stroke-width="0.9" />
<line x1="67.60" y1="459.07" x2="70.00" y2="459.07" stroke="#000" stroke-width="0.9" />
<line x1="67.60" y1="455.40" x2="70.00" y2="455.40" stroke="#000" stroke-width="0.9" />
<line x1="67.60" y1="452.55" x2="70.00" y2="452.55" stroke="#000" stroke-width="0.9" />
<line x1="67.60" y1="450.22" x2="70.00" y2="450.22" stroke="#000" stroke-width="0.9" />
<line x1="67.60" y1="448.25" x2="70.00" y2="448.25" stroke="#000" stroke-width="0.9" />
<line x1="67.60" y1="446.55" x2="70.00" y2="446.55" stroke="#000" stroke-width="0.9" />
<line x1="67.60" y1="445.05" x2="70.00" y2="445.05" stroke="#000" stroke-width="0.9" />
<line x1="65.60" y1="473.10" x2="70.00" y2="473.10" stroke="#000" stroke-width="1.5" />
<text x="61.60" y="476.60" font-size="10.3" text-anchor="end" font-weight="normal" fill="#111" textLength="22.05" lengthAdjust="spacingAndGlyphs" style="stroke:#111;stroke-width:0.22">0.0<tspan class="h1">1</tspan></text>
<line x1="67.60" y1="493.65" x2="70.00" y2="493.65" stroke="#000" stroke-width="0.9" />
<line x1="67.60" y1="488.47" x2="70.00" y2="488.47" stroke="#000" stroke-width="0.9" />
<line x1="67.60" y1="484.80" x2="70.00" y2="484.80" stroke="#000" stroke-width="0.9" />
<line x1="67.60" y1="481.95" x2="70.00" y2="481.95" stroke="#000" stroke-width="0.9" />
<line x1="67.60" y1="479.62" x2="70.00" y2="479.62" stroke="#000" stroke-width="0.9" />
<line x1="67.60" y1="477.65" x2="70.00" y2="477.65" stroke="#000" stroke-width="0.9" />
<line x1="67.60" y1="475.95" x2="70.00" y2="475.95" stroke="#000" stroke-width="0.9" />
<line x1="67.60" y1="474.45" x2="70.00" y2="474.45" stroke="#000" stroke-width="0.9" />
<line x1="65.60" y1="502.50" x2="70.00" y2="502.50" stroke="#000" stroke-width="1.5" />
<text x="61.60" y="506.00" font-size="10.3" text-anchor="end" font-weight="normal" fill="#111" textLength="28.35" lengthAdjust="spacingAndGlyphs" style="stroke:#111;stroke-width:0.22">0.00<tspan class="h1">1</tspan></text>
<line x1="220.50" y1="355.50" x2="225.00" y2="355.50" stroke="#000" stroke-width="1.5" />
<text x="228.50" y="359.00" font-size="10.3" text-anchor="start" font-weight="normal" fill="#111" textLength="18.9" lengthAdjust="spacingAndGlyphs" style="stroke:#111;stroke-width:0.22"><tspan class="h1">1</tspan>00</text>
<line x1="220.50" y1="384.90" x2="225.00" y2="384.90" stroke="#000" stroke-width="1.5" />
<text x="228.50" y="388.40" font-size="10.3" text-anchor="start" font-weight="normal" fill="#111" textLength="12.6" lengthAdjust="spacingAndGlyphs" style="stroke:#111;stroke-width:0.22">80</text>
<line x1="220.50" y1="414.30" x2="225.00" y2="414.30" stroke="#000" stroke-width="1.5" />
<text x="228.50" y="417.80" font-size="10.3" text-anchor="start" font-weight="normal" fill="#111" textLength="12.6" lengthAdjust="spacingAndGlyphs" style="stroke:#111;stroke-width:0.22">60</text>
<line x1="220.50" y1="443.70" x2="225.00" y2="443.70" stroke="#000" stroke-width="1.5" />
<text x="228.50" y="447.20" font-size="10.3" text-anchor="start" font-weight="normal" fill="#111" textLength="12.6" lengthAdjust="spacingAndGlyphs" style="stroke:#111;stroke-width:0.22">40</text>
<line x1="220.50" y1="473.10" x2="225.00" y2="473.10" stroke="#000" stroke-width="1.5" />
<text x="228.50" y="476.60" font-size="10.3" text-anchor="start" font-weight="normal" fill="#111" textLength="12.6" lengthAdjust="spacingAndGlyphs" style="stroke:#111;stroke-width:0.22">20</text>
<line x1="220.50" y1="502.50" x2="225.00" y2="502.50" stroke="#000" stroke-width="1.5" />
<text x="228.50" y="506.00" font-size="10.3" text-anchor="start" font-weight="normal" fill="#111" textLength="6.3" lengthAdjust="spacingAndGlyphs" style="stroke:#111;stroke-width:0.22">0</text>
<text transform="translate(255.90,425.00) rotate(90) scale(0.6,1)" font-size="12.8" text-anchor="middle" font-weight="bold" fill="#111" textLength="101.67" lengthAdjust="spacing">CD34+ DC [%]</text>
<text transform="translate(26.10,426.30) rotate(-90) scale(0.6,1)" font-size="12.8" text-anchor="middle" font-weight="bold" fill="#111" textLength="129.33" lengthAdjust="spacing">VAF <tspan font-style="italic">KIT</tspan> N822K [%]</text>
<line x1="70.00" y1="473.20" x2="220.50" y2="473.20" stroke="#000" stroke-width="1.2" stroke-dasharray="3.6 3.4"/>
<text x="81.30" y="468.80" font-size="10.3" text-anchor="start" font-weight="normal" fill="#111" textLength="56.2" lengthAdjust="spacingAndGlyphs" style="stroke:#111;stroke-width:0.22">NGS cut-off</text>
<line x1="82.50" y1="502.50" x2="82.50" y2="507.30" stroke="#000" stroke-width="1.5" />
<line x1="107.30" y1="502.50" x2="107.30" y2="507.30" stroke="#000" stroke-width="1.5" />
<line x1="132.30" y1="502.50" x2="132.30" y2="507.30" stroke="#000" stroke-width="1.5" />
<line x1="157.20" y1="502.50" x2="157.20" y2="507.30" stroke="#000" stroke-width="1.5" />
<line x1="182.20" y1="502.50" x2="182.20" y2="507.30" stroke="#000" stroke-width="1.5" />
<line x1="207.10" y1="502.50" x2="207.10" y2="507.30" stroke="#000" stroke-width="1.5" />
<text transform="translate(86.30,516.00) rotate(-45)" font-size="11" text-anchor="end" font-weight="normal" fill="#111" style="stroke:#111;stroke-width:0.22"><tspan class="h1">1</tspan>0000</text>
<text transform="translate(111.10,516.00) rotate(-45)" font-size="11" text-anchor="end" font-weight="normal" fill="#111" style="stroke:#111;stroke-width:0.22">50000</text>
<text transform="translate(136.10,516.00) rotate(-45)" font-size="11" text-anchor="end" font-weight="normal" fill="#111" style="stroke:#111;stroke-width:0.22"><tspan class="h1">1</tspan>00000</text>
<text transform="translate(161.00,516.00) rotate(-45)" font-size="11" text-anchor="end" font-weight="normal" fill="#111" style="stroke:#111;stroke-width:0.22">500000</text>
<text transform="translate(186.00,516.00) rotate(-45)" font-size="11" text-anchor="end" font-weight="normal" fill="#111" style="stroke:#111;stroke-width:0.22"><tspan class="h1">1</tspan>000000</text>
<text transform="translate(210.90,516.00) rotate(-45)" font-size="10.7" text-anchor="end" font-weight="normal" fill="#111" style="stroke:#111;stroke-width:0.22">Normal</text>
<text transform="translate(220.50,526.20) rotate(-45)" font-size="11.2" text-anchor="end" font-weight="normal" fill="#111" style="stroke:#111;stroke-width:0.22">WBC</text>
<text transform="translate(144.80,562.50) scale(0.6,1)" font-size="12.8" text-anchor="middle" font-weight="bold" fill="#111" textLength="215.83" lengthAdjust="spacing">Dilution Kasumi cells/WBC [<tspan class="h1">1</tspan>:n]</text>
<circle cx="82.40" cy="362.10" r="2.0" fill="#C41230"/>
<circle cx="82.40" cy="364.40" r="2.0" fill="#C41230"/>
<circle cx="82.40" cy="366.70" r="2.0" fill="#C41230"/>
<circle cx="107.50" cy="374.20" r="2.0" fill="#C41230"/>
<circle cx="107.50" cy="380.50" r="2.0" fill="#C41230"/>
<circle cx="132.50" cy="386.50" r="2.0" fill="#C41230"/>
<circle cx="132.50" cy="391.70" r="2.0" fill="#C41230"/>
<circle cx="132.50" cy="393.00" r="2.0" fill="#C41230"/>
<circle cx="157.00" cy="402.00" r="2.0" fill="#C41230"/>
<circle cx="157.00" cy="405.50" r="2.0" fill="#C41230"/>
<circle cx="157.00" cy="415.00" r="2.0" fill="#C41230"/>
<circle cx="182.00" cy="421.20" r="2.0" fill="#C41230"/>
<circle cx="182.00" cy="423.70" r="2.0" fill="#C41230"/>
<circle cx="182.00" cy="435.70" r="2.0" fill="#C41230"/>
<circle cx="82.40" cy="411.40" r="2.0" fill="#0D4A87"/>
<circle cx="82.40" cy="417.10" r="2.0" fill="#0D4A87"/>
<circle cx="82.40" cy="429.10" r="2.0" fill="#0D4A87"/>
<circle cx="107.50" cy="368.00" r="2.0" fill="#0D4A87"/>
<circle cx="107.50" cy="376.50" r="2.0" fill="#0D4A87"/>
<circle cx="132.50" cy="361.20" r="2.0" fill="#0D4A87"/>
<circle cx="132.50" cy="363.70" r="2.0" fill="#0D4A87"/>
<circle cx="132.50" cy="369.00" r="2.0" fill="#0D4A87"/>
<circle cx="157.00" cy="356.20" r="2.0" fill="#0D4A87"/>
<circle cx="157.00" cy="358.00" r="2.0" fill="#0D4A87"/>
<circle cx="182.00" cy="355.70" r="2.0" fill="#0D4A87"/>
<circle cx="207.00" cy="482.00" r="2.0" fill="#3CB44F"/>
<circle cx="207.00" cy="485.00" r="2.0" fill="#3CB44F"/>
<circle cx="207.00" cy="489.00" r="2.0" fill="#3CB44F"/>
<text x="290.50" y="315.80" font-size="15.6" text-anchor="start" font-weight="bold" fill="#111" style="stroke:#111;stroke-width:0.5">D</text>
<line x1="350.60" y1="347.80" x2="350.60" y2="502.60" stroke="#000" stroke-width="1.5" />
<line x1="346.20" y1="502.60" x2="505.00" y2="502.60" stroke="#000" stroke-width="1.5" />
<line x1="346.30" y1="502.60" x2="350.60" y2="502.60" stroke="#000" stroke-width="1.5" />
<text x="343.20" y="506.10" font-size="10.3" text-anchor="end" font-weight="normal" fill="#111" textLength="6.3" lengthAdjust="spacingAndGlyphs" style="stroke:#111;stroke-width:0.22">0</text>
<line x1="350.60" y1="502.60" x2="350.60" y2="507.00" stroke="#000" stroke-width="1.5" />
<text x="350.60" y="518.60" font-size="10.3" text-anchor="middle" font-weight="normal" fill="#111" textLength="6.3" lengthAdjust="spacingAndGlyphs" style="stroke:#111;stroke-width:0.22">0</text>
<line x1="346.30" y1="465.15" x2="350.60" y2="465.15" stroke="#000" stroke-width="1.5" />
<text x="343.20" y="468.65" font-size="10.3" text-anchor="end" font-weight="normal" fill="#111" textLength="12.6" lengthAdjust="spacingAndGlyphs" style="stroke:#111;stroke-width:0.22">25</text>
<line x1="387.85" y1="502.60" x2="387.85" y2="507.00" stroke="#000" stroke-width="1.5" />
<text x="387.85" y="518.60" font-size="10.3" text-anchor="middle" font-weight="normal" fill="#111" textLength="12.6" lengthAdjust="spacingAndGlyphs" style="stroke:#111;stroke-width:0.22">25</text>
<line x1="346.30" y1="427.70" x2="350.60" y2="427.70" stroke="#000" stroke-width="1.5" />
<text x="343.20" y="431.20" font-size="10.3" text-anchor="end" font-weight="normal" fill="#111" textLength="12.6" lengthAdjust="spacingAndGlyphs" style="stroke:#111;stroke-width:0.22">50</text>
<line x1="425.10" y1="502.60" x2="425.10" y2="507.00" stroke="#000" stroke-width="1.5" />
<text x="425.10" y="518.60" font-size="10.3" text-anchor="middle" font-weight="normal" fill="#111" textLength="12.6" lengthAdjust="spacingAndGlyphs" style="stroke:#111;stroke-width:0.22">50</text>
<line x1="346.30" y1="390.25" x2="350.60" y2="390.25" stroke="#000" stroke-width="1.5" />
<text x="343.20" y="393.75" font-size="10.3" text-anchor="end" font-weight="normal" fill="#111" textLength="12.6" lengthAdjust="spacingAndGlyphs" style="stroke:#111;stroke-width:0.22">75</text>
<line x1="462.35" y1="502.60" x2="462.35" y2="507.00" stroke="#000" stroke-width="1.5" />
<text x="462.35" y="518.60" font-size="10.3" text-anchor="middle" font-weight="normal" fill="#111" textLength="12.6" lengthAdjust="spacingAndGlyphs" style="stroke:#111;stroke-width:0.22">75</text>
<line x1="346.30" y1="352.80" x2="350.60" y2="352.80" stroke="#000" stroke-width="1.5" />
<text x="343.20" y="356.30" font-size="10.3" text-anchor="end" font-weight="normal" fill="#111" textLength="18.9" lengthAdjust="spacingAndGlyphs" style="stroke:#111;stroke-width:0.22"><tspan class="h1">1</tspan>00</text>
<line x1="499.60" y1="502.60" x2="499.60" y2="507.00" stroke="#000" stroke-width="1.5" />
<text x="499.60" y="518.60" font-size="10.3" text-anchor="middle" font-weight="normal" fill="#111" textLength="18.9" lengthAdjust="spacingAndGlyphs" style="stroke:#111;stroke-width:0.22"><tspan class="h1">1</tspan>00</text>
<text transform="translate(315.90,425.30) rotate(-90) scale(0.6,1)" font-size="12.8" text-anchor="middle" font-weight="bold" fill="#111" textLength="135.83" lengthAdjust="spacing">CD34+ VAF BM [%]</text>
<text transform="translate(427.60,536.90) scale(0.6,1)" font-size="12.8" text-anchor="middle" font-weight="bold" fill="#111" textLength="130.67" lengthAdjust="spacing">CD34+ VAF PB [%]</text>
<text x="395.40" y="402.30" font-size="10.2" text-anchor="start" font-weight="normal" fill="#111" textLength="49.7" lengthAdjust="spacingAndGlyphs" style="stroke:#111;stroke-width:0.22">r = 0.899<tspan class="h1">1</tspan></text>
<circle cx="350.80" cy="502.30" r="2.0" fill="#C41230"/>
<circle cx="352.70" cy="501.50" r="2.0" fill="#C41230"/>
<circle cx="355.00" cy="503.10" r="2.0" fill="#C41230"/>
<circle cx="356.50" cy="499.20" r="2.0" fill="#C41230"/>
<circle cx="358.80" cy="502.30" r="2.0" fill="#C41230"/>
<circle cx="360.80" cy="495.80" r="2.0" fill="#C41230"/>
<circle cx="361.50" cy="501.50" r="2.0" fill="#C41230"/>
<circle cx="363.80" cy="500.80" r="2.0" fill="#C41230"/>
<circle cx="363.80" cy="502.30" r="2.0" fill="#C41230"/>
<circle cx="369.00" cy="493.70" r="2.0" fill="#C41230"/>
<circle cx="375.60" cy="483.80" r="2.0" fill="#C41230"/>
<circle cx="375.40" cy="500.40" r="2.0" fill="#C41230"/>
<circle cx="384.90" cy="497.70" r="2.0" fill="#C41230"/>
<circle cx="391.90" cy="492.90" r="2.0" fill="#C41230"/>
<circle cx="391.50" cy="501.90" r="2.0" fill="#C41230"/>
<circle cx="393.00" cy="502.50" r="2.0" fill="#C41230"/>
<circle cx="403.80" cy="457.30" r="2.0" fill="#C41230"/>
<circle cx="406.90" cy="459.60" r="2.0" fill="#C41230"/>
<circle cx="412.10" cy="447.30" r="2.0" fill="#C41230"/>
<circle cx="417.90" cy="454.40" r="2.0" fill="#C41230"/>
<circle cx="425.00" cy="445.40" r="2.0" fill="#C41230"/>
<circle cx="417.90" cy="494.20" r="2.0" fill="#C41230"/>
<circle cx="435.60" cy="501.50" r="2.0" fill="#C41230"/>
<circle cx="494.70" cy="355.60" r="2.0" fill="#C41230"/>
<circle cx="492.70" cy="394.00" r="2.0" fill="#C41230"/>
<circle cx="493.20" cy="414.90" r="2.0" fill="#C41230"/>
<circle cx="433.00" cy="422.70" r="2.0" fill="#C41230"/>
<circle cx="357.30" cy="499.60" r="2.0" fill="#C41230"/>
<circle cx="353.50" cy="502.60" r="2.0" fill="#C41230"/>
<line x1="362.00" y1="498.90" x2="494.70" y2="399.70" stroke="#0D4A87" stroke-width="2.0" />
<text x="8.90" y="599.90" font-size="15.6" text-anchor="start" font-weight="bold" fill="#111" style="stroke:#111;stroke-width:0.5">E</text>
<line x1="69.60" y1="628.00" x2="69.60" y2="780.50" stroke="#000" stroke-width="1.5" />
<line x1="65.30" y1="780.50" x2="220.00" y2="780.50" stroke="#000" stroke-width="1.5" />
<line x1="65.30" y1="634.10" x2="69.60" y2="634.10" stroke="#000" stroke-width="1.5" />
<text x="62.40" y="637.60" font-size="10.3" text-anchor="end" font-weight="normal" fill="#111" textLength="18.9" lengthAdjust="spacingAndGlyphs" style="stroke:#111;stroke-width:0.22"><tspan class="h1">1</tspan>00</text>
<line x1="67.20" y1="651.19" x2="69.60" y2="651.19" stroke="#000" stroke-width="0.9" />
<line x1="67.20" y1="646.88" x2="69.60" y2="646.88" stroke="#000" stroke-width="0.9" />
<line x1="67.20" y1="643.83" x2="69.60" y2="643.83" stroke="#000" stroke-width="0.9" />
<line x1="67.20" y1="641.46" x2="69.60" y2="641.46" stroke="#000" stroke-width="0.9" />
<line x1="67.20" y1="639.52" x2="69.60" y2="639.52" stroke="#000" stroke-width="0.9" />
<line x1="67.20" y1="637.89" x2="69.60" y2="637.89" stroke="#000" stroke-width="0.9" />
<line x1="67.20" y1="636.47" x2="69.60" y2="636.47" stroke="#000" stroke-width="0.9" />
<line x1="67.20" y1="635.22" x2="69.60" y2="635.22" stroke="#000" stroke-width="0.9" />
<line x1="65.30" y1="658.55" x2="69.60" y2="658.55" stroke="#000" stroke-width="1.5" />
<text x="62.40" y="662.05" font-size="10.3" text-anchor="end" font-weight="normal" fill="#111" textLength="12.6" lengthAdjust="spacingAndGlyphs" style="stroke:#111;stroke-width:0.22"><tspan class="h1">1</tspan>0</text>
<line x1="67.20" y1="675.64" x2="69.60" y2="675.64" stroke="#000" stroke-width="0.9" />
<line x1="67.20" y1="671.33" x2="69.60" y2="671.33" stroke="#000" stroke-width="0.9" />
<line x1="67.20" y1="668.28" x2="69.60" y2="668.28" stroke="#000" stroke-width="0.9" />
<line x1="67.20" y1="665.91" x2="69.60" y2="665.91" stroke="#000" stroke-width="0.9" />
<line x1="67.20" y1="663.97" x2="69.60" y2="663.97" stroke="#000" stroke-width="0.9" />
<line x1="67.20" y1="662.34" x2="69.60" y2="662.34" stroke="#000" stroke-width="0.9" />
<line x1="67.20" y1="660.92" x2="69.60" y2="660.92" stroke="#000" stroke-width="0.9" />
<line x1="67.20" y1="659.67" x2="69.60" y2="659.67" stroke="#000" stroke-width="0.9" />
<line x1="65.30" y1="683.00" x2="69.60" y2="683.00" stroke="#000" stroke-width="1.5" />
<text x="62.40" y="686.50" font-size="10.3" text-anchor="end" font-weight="normal" fill="#111" textLength="6.3" lengthAdjust="spacingAndGlyphs" style="stroke:#111;stroke-width:0.22"><tspan class="h1">1</tspan></text>
<line x1="67.20" y1="700.09" x2="69.60" y2="700.09" stroke="#000" stroke-width="0.9" />
<line x1="67.20" y1="695.78" x2="69.60" y2="695.78" stroke="#000" stroke-width="0.9" />
<line x1="67.20" y1="692.73" x2="69.60" y2="692.73" stroke="#000" stroke-width="0.9" />
<line x1="67.20" y1="690.36" x2="69.60" y2="690.36" stroke="#000" stroke-width="0.9" />
<line x1="67.20" y1="688.42" x2="69.60" y2="688.42" stroke="#000" stroke-width="0.9" />
<line x1="67.20" y1="686.79" x2="69.60" y2="686.79" stroke="#000" stroke-width="0.9" />
<line x1="67.20" y1="685.37" x2="69.60" y2="685.37" stroke="#000" stroke-width="0.9" />
<line x1="67.20" y1="684.12" x2="69.60" y2="684.12" stroke="#000" stroke-width="0.9" />
<line x1="65.30" y1="707.45" x2="69.60" y2="707.45" stroke="#000" stroke-width="1.5" />
<text x="62.40" y="710.95" font-size="10.3" text-anchor="end" font-weight="normal" fill="#111" textLength="15.75" lengthAdjust="spacingAndGlyphs" style="stroke:#111;stroke-width:0.22">0.<tspan class="h1">1</tspan></text>
<line x1="67.20" y1="724.54" x2="69.60" y2="724.54" stroke="#000" stroke-width="0.9" />
<line x1="67.20" y1="720.23" x2="69.60" y2="720.23" stroke="#000" stroke-width="0.9" />
<line x1="67.20" y1="717.18" x2="69.60" y2="717.18" stroke="#000" stroke-width="0.9" />
<line x1="67.20" y1="714.81" x2="69.60" y2="714.81" stroke="#000" stroke-width="0.9" />
<line x1="67.20" y1="712.87" x2="69.60" y2="712.87" stroke="#000" stroke-width="0.9" />
<line x1="67.20" y1="711.24" x2="69.60" y2="711.24" stroke="#000" stroke-width="0.9" />
<line x1="67.20" y1="709.82" x2="69.60" y2="709.82" stroke="#000" stroke-width="0.9" />
<line x1="67.20" y1="708.57" x2="69.60" y2="708.57" stroke="#000" stroke-width="0.9" />
<line x1="65.30" y1="731.90" x2="69.60" y2="731.90" stroke="#000" stroke-width="1.5" />
<text x="62.40" y="735.40" font-size="10.3" text-anchor="end" font-weight="normal" fill="#111" textLength="22.05" lengthAdjust="spacingAndGlyphs" style="stroke:#111;stroke-width:0.22">0.0<tspan class="h1">1</tspan></text>
<line x1="67.20" y1="748.99" x2="69.60" y2="748.99" stroke="#000" stroke-width="0.9" />
<line x1="67.20" y1="744.68" x2="69.60" y2="744.68" stroke="#000" stroke-width="0.9" />
<line x1="67.20" y1="741.63" x2="69.60" y2="741.63" stroke="#000" stroke-width="0.9" />
<line x1="67.20" y1="739.26" x2="69.60" y2="739.26" stroke="#000" stroke-width="0.9" />
<line x1="67.20" y1="737.32" x2="69.60" y2="737.32" stroke="#000" stroke-width="0.9" />
<line x1="67.20" y1="735.69" x2="69.60" y2="735.69" stroke="#000" stroke-width="0.9" />
<line x1="67.20" y1="734.27" x2="69.60" y2="734.27" stroke="#000" stroke-width="0.9" />
<line x1="67.20" y1="733.02" x2="69.60" y2="733.02" stroke="#000" stroke-width="0.9" />
<line x1="65.30" y1="756.35" x2="69.60" y2="756.35" stroke="#000" stroke-width="1.5" />
<text x="62.40" y="759.85" font-size="10.3" text-anchor="end" font-weight="normal" fill="#111" textLength="28.35" lengthAdjust="spacingAndGlyphs" style="stroke:#111;stroke-width:0.22">0.00<tspan class="h1">1</tspan></text>
<line x1="67.20" y1="773.44" x2="69.60" y2="773.44" stroke="#000" stroke-width="0.9" />
<line x1="67.20" y1="769.13" x2="69.60" y2="769.13" stroke="#000" stroke-width="0.9" />
<line x1="67.20" y1="766.08" x2="69.60" y2="766.08" stroke="#000" stroke-width="0.9" />
<line x1="67.20" y1="763.71" x2="69.60" y2="763.71" stroke="#000" stroke-width="0.9" />
<line x1="67.20" y1="761.77" x2="69.60" y2="761.77" stroke="#000" stroke-width="0.9" />
<line x1="67.20" y1="760.14" x2="69.60" y2="760.14" stroke="#000" stroke-width="0.9" />
<line x1="67.20" y1="758.72" x2="69.60" y2="758.72" stroke="#000" stroke-width="0.9" />
<line x1="67.20" y1="757.47" x2="69.60" y2="757.47" stroke="#000" stroke-width="0.9" />
<line x1="65.30" y1="780.80" x2="69.60" y2="780.80" stroke="#000" stroke-width="1.5" />
<text x="62.40" y="784.30" font-size="10.3" text-anchor="end" font-weight="normal" fill="#111" textLength="34.65" lengthAdjust="spacingAndGlyphs" style="stroke:#111;stroke-width:0.22">0.000<tspan class="h1">1</tspan></text>
<text transform="translate(19.70,705.30) rotate(-90) scale(0.6,1)" font-size="12.8" text-anchor="middle" font-weight="bold" fill="#111" textLength="140.33" lengthAdjust="spacing">CD34+ cells VAF [%]</text>
<line x1="107.40" y1="634.60" x2="107.40" y2="644.00" stroke="#000" stroke-width="1.5" />
<line x1="98.00" y1="634.60" x2="117.00" y2="634.60" stroke="#000" stroke-width="1.5" />
<rect x="88.10" y="643.90" width="39.20" height="99.10" fill="#C41230"/>
<line x1="88.10" y1="660.00" x2="127.30" y2="660.00" stroke="#2a0008" stroke-width="1.8" />
<line x1="182.10" y1="634.60" x2="182.10" y2="656.10" stroke="#000" stroke-width="1.5" />
<line x1="172.60" y1="634.60" x2="191.60" y2="634.60" stroke="#000" stroke-width="1.5" />
<line x1="182.10" y1="748.00" x2="182.10" y2="763.70" stroke="#000" stroke-width="1.5" />
<line x1="172.60" y1="763.70" x2="191.60" y2="763.70" stroke="#000" stroke-width="1.5" />
<rect x="162.70" y="656.10" width="39.20" height="92.10" fill="#E08896"/>
<line x1="162.70" y1="685.20" x2="201.90" y2="685.20" stroke="#1a0000" stroke-width="1.8" />
<line x1="107.40" y1="780.50" x2="107.40" y2="784.00" stroke="#000" stroke-width="1.5" />
<line x1="182.10" y1="780.50" x2="182.10" y2="784.00" stroke="#000" stroke-width="1.5" />
<text x="107.40" y="797.60" font-size="10.3" text-anchor="middle" font-weight="normal" fill="#111" style="stroke:#111;stroke-width:0.22">PB</text>
<text x="182.20" y="797.60" font-size="10.3" text-anchor="middle" font-weight="normal" fill="#111" textLength="16" lengthAdjust="spacingAndGlyphs" style="stroke:#111;stroke-width:0.22">BM</text>
<polyline points="107.4,622 107.4,616.2 182.1,616.2 182.1,622" fill="none" stroke="#000" stroke-width="1.3"/>
<text x="124.30" y="612.00" font-size="10.2" text-anchor="start" font-weight="normal" fill="#111" textLength="41.2" lengthAdjust="spacingAndGlyphs" style="stroke:#111;stroke-width:0.22"><tspan font-style="italic">P</tspan>=.<tspan class="h1">1</tspan>377</text>
<text x="291.00" y="600.10" font-size="15.6" text-anchor="start" font-weight="bold" fill="#111" style="stroke:#111;stroke-width:0.5">F</text>
<line x1="350.20" y1="629.00" x2="350.20" y2="780.50" stroke="#000" stroke-width="1.5" />
<line x1="346.00" y1="780.50" x2="500.10" y2="780.50" stroke="#000" stroke-width="1.5" />
<line x1="346.00" y1="634.10" x2="350.20" y2="634.10" stroke="#000" stroke-width="1.5" />
<text x="343.00" y="637.60" font-size="10.3" text-anchor="end" font-weight="normal" fill="#111" textLength="18.9" lengthAdjust="spacingAndGlyphs" style="stroke:#111;stroke-width:0.22"><tspan class="h1">1</tspan>00</text>
<line x1="347.80" y1="651.19" x2="350.20" y2="651.19" stroke="#000" stroke-width="0.9" />
<line x1="347.80" y1="646.88" x2="350.20" y2="646.88" stroke="#000" stroke-width="0.9" />
<line x1="347.80" y1="643.83" x2="350.20" y2="643.83" stroke="#000" stroke-width="0.9" />
<line x1="347.80" y1="641.46" x2="350.20" y2="641.46" stroke="#000" stroke-width="0.9" />
<line x1="347.80" y1="639.52" x2="350.20" y2="639.52" stroke="#000" stroke-width="0.9" />
<line x1="347.80" y1="637.89" x2="350.20" y2="637.89" stroke="#000" stroke-width="0.9" />
<line x1="347.80" y1="636.47" x2="350.20" y2="636.47" stroke="#000" stroke-width="0.9" />
<line x1="347.80" y1="635.22" x2="350.20" y2="635.22" stroke="#000" stroke-width="0.9" />
<line x1="346.00" y1="658.55" x2="350.20" y2="658.55" stroke="#000" stroke-width="1.5" />
<text x="343.00" y="662.05" font-size="10.3" text-anchor="end" font-weight="normal" fill="#111" textLength="12.6" lengthAdjust="spacingAndGlyphs" style="stroke:#111;stroke-width:0.22"><tspan class="h1">1</tspan>0</text>
<line x1="347.80" y1="675.64" x2="350.20" y2="675.64" stroke="#000" stroke-width="0.9" />
<line x1="347.80" y1="671.33" x2="350.20" y2="671.33" stroke="#000" stroke-width="0.9" />
<line x1="347.80" y1="668.28" x2="350.20" y2="668.28" stroke="#000" stroke-width="0.9" />
<line x1="347.80" y1="665.91" x2="350.20" y2="665.91" stroke="#000" stroke-width="0.9" />
<line x1="347.80" y1="663.97" x2="350.20" y2="663.97" stroke="#000" stroke-width="0.9" />
<line x1="347.80" y1="662.34" x2="350.20" y2="662.34" stroke="#000" stroke-width="0.9" />
<line x1="347.80" y1="660.92" x2="350.20" y2="660.92" stroke="#000" stroke-width="0.9" />
<line x1="347.80" y1="659.67" x2="350.20" y2="659.67" stroke="#000" stroke-width="0.9" />
<line x1="346.00" y1="683.00" x2="350.20" y2="683.00" stroke="#000" stroke-width="1.5" />
<text x="343.00" y="686.50" font-size="10.3" text-anchor="end" font-weight="normal" fill="#111" textLength="6.3" lengthAdjust="spacingAndGlyphs" style="stroke:#111;stroke-width:0.22"><tspan class="h1">1</tspan></text>
<line x1="347.80" y1="700.09" x2="350.20" y2="700.09" stroke="#000" stroke-width="0.9" />
<line x1="347.80" y1="695.78" x2="350.20" y2="695.78" stroke="#000" stroke-width="0.9" />
<line x1="347.80" y1="692.73" x2="350.20" y2="692.73" stroke="#000" stroke-width="0.9" />
<line x1="347.80" y1="690.36" x2="350.20" y2="690.36" stroke="#000" stroke-width="0.9" />
<line x1="347.80" y1="688.42" x2="350.20" y2="688.42" stroke="#000" stroke-width="0.9" />
<line x1="347.80" y1="686.79" x2="350.20" y2="686.79" stroke="#000" stroke-width="0.9" />
<line x1="347.80" y1="685.37" x2="350.20" y2="685.37" stroke="#000" stroke-width="0.9" />
<line x1="347.80" y1="684.12" x2="350.20" y2="684.12" stroke="#000" stroke-width="0.9" />
<line x1="346.00" y1="707.45" x2="350.20" y2="707.45" stroke="#000" stroke-width="1.5" />
<text x="343.00" y="710.95" font-size="10.3" text-anchor="end" font-weight="normal" fill="#111" textLength="15.75" lengthAdjust="spacingAndGlyphs" style="stroke:#111;stroke-width:0.22">0.<tspan class="h1">1</tspan></text>
<line x1="347.80" y1="724.54" x2="350.20" y2="724.54" stroke="#000" stroke-width="0.9" />
<line x1="347.80" y1="720.23" x2="350.20" y2="720.23" stroke="#000" stroke-width="0.9" />
<line x1="347.80" y1="717.18" x2="350.20" y2="717.18" stroke="#000" stroke-width="0.9" />
<line x1="347.80" y1="714.81" x2="350.20" y2="714.81" stroke="#000" stroke-width="0.9" />
<line x1="347.80" y1="712.87" x2="350.20" y2="712.87" stroke="#000" stroke-width="0.9" />
<line x1="347.80" y1="711.24" x2="350.20" y2="711.24" stroke="#000" stroke-width="0.9" />
<line x1="347.80" y1="709.82" x2="350.20" y2="709.82" stroke="#000" stroke-width="0.9" />
<line x1="347.80" y1="708.57" x2="350.20" y2="708.57" stroke="#000" stroke-width="0.9" />
<line x1="346.00" y1="731.90" x2="350.20" y2="731.90" stroke="#000" stroke-width="1.5" />
<text x="343.00" y="735.40" font-size="10.3" text-anchor="end" font-weight="normal" fill="#111" textLength="22.05" lengthAdjust="spacingAndGlyphs" style="stroke:#111;stroke-width:0.22">0.0<tspan class="h1">1</tspan></text>
<line x1="347.80" y1="748.99" x2="350.20" y2="748.99" stroke="#000" stroke-width="0.9" />
<line x1="347.80" y1="744.68" x2="350.20" y2="744.68" stroke="#000" stroke-width="0.9" />
<line x1="347.80" y1="741.63" x2="350.20" y2="741.63" stroke="#000" stroke-width="0.9" />
<line x1="347.80" y1="739.26" x2="350.20" y2="739.26" stroke="#000" stroke-width="0.9" />
<line x1="347.80" y1="737.32" x2="350.20" y2="737.32" stroke="#000" stroke-width="0.9" />
<line x1="347.80" y1="735.69" x2="350.20" y2="735.69" stroke="#000" stroke-width="0.9" />
<line x1="347.80" y1="734.27" x2="350.20" y2="734.27" stroke="#000" stroke-width="0.9" />
<line x1="347.80" y1="733.02" x2="350.20" y2="733.02" stroke="#000" stroke-width="0.9" />
<line x1="346.00" y1="756.35" x2="350.20" y2="756.35" stroke="#000" stroke-width="1.5" />
<text x="343.00" y="759.85" font-size="10.3" text-anchor="end" font-weight="normal" fill="#111" textLength="28.35" lengthAdjust="spacingAndGlyphs" style="stroke:#111;stroke-width:0.22">0.00<tspan class="h1">1</tspan></text>
<line x1="347.80" y1="773.44" x2="350.20" y2="773.44" stroke="#000" stroke-width="0.9" />
<line x1="347.80" y1="769.13" x2="350.20" y2="769.13" stroke="#000" stroke-width="0.9" />
<line x1="347.80" y1="766.08" x2="350.20" y2="766.08" stroke="#000" stroke-width="0.9" />
<line x1="347.80" y1="763.71" x2="350.20" y2="763.71" stroke="#000" stroke-width="0.9" />
<line x1="347.80" y1="761.77" x2="350.20" y2="761.77" stroke="#000" stroke-width="0.9" />
<line x1="347.80" y1="760.14" x2="350.20" y2="760.14" stroke="#000" stroke-width="0.9" />
<line x1="347.80" y1="758.72" x2="350.20" y2="758.72" stroke="#000" stroke-width="0.9" />
<line x1="347.80" y1="757.47" x2="350.20" y2="757.47" stroke="#000" stroke-width="0.9" />
<line x1="346.00" y1="780.80" x2="350.20" y2="780.80" stroke="#000" stroke-width="1.5" />
<text x="343.00" y="784.30" font-size="10.3" text-anchor="end" font-weight="normal" fill="#111" textLength="34.65" lengthAdjust="spacingAndGlyphs" style="stroke:#111;stroke-width:0.22">0.000<tspan class="h1">1</tspan></text>
<text transform="translate(301.80,704.70) rotate(-90) scale(0.6,1)" font-size="12.8" text-anchor="middle" font-weight="bold" fill="#111" textLength="152.50" lengthAdjust="spacing">VAF mutant alleles [%]</text>
<line x1="388.30" y1="635.60" x2="388.30" y2="651.00" stroke="#000" stroke-width="1.5" />
<line x1="378.40" y1="635.60" x2="397.60" y2="635.60" stroke="#000" stroke-width="1.5" />
<line x1="388.30" y1="745.60" x2="388.30" y2="780.50" stroke="#000" stroke-width="1.5" />
<rect x="368.20" y="650.90" width="39.60" height="94.70" fill="#E08896"/>
<line x1="368.20" y1="675.80" x2="407.80" y2="675.80" stroke="#1a0000" stroke-width="1.8" />
<line x1="462.50" y1="658.90" x2="462.50" y2="715.30" stroke="#000" stroke-width="1.5" />
<line x1="453.40" y1="658.90" x2="471.80" y2="658.90" stroke="#000" stroke-width="1.5" />
<line x1="462.50" y1="756.30" x2="462.50" y2="780.50" stroke="#000" stroke-width="1.5" />
<rect x="443.00" y="715.20" width="39.20" height="41.10" fill="#3CB44F"/>
<line x1="443.00" y1="740.70" x2="482.20" y2="740.70" stroke="#001a00" stroke-width="1.8" />
<line x1="388.30" y1="780.50" x2="388.30" y2="784.00" stroke="#000" stroke-width="1.5" />
<line x1="462.50" y1="780.50" x2="462.50" y2="784.00" stroke="#000" stroke-width="1.5" />
<text x="388.20" y="797.20" font-size="10" text-anchor="middle" font-weight="normal" fill="#111" textLength="60.4" lengthAdjust="spacingAndGlyphs" style="stroke:#111;stroke-width:0.22">CD34+ cells</text>
<text x="462.50" y="797.20" font-size="10" text-anchor="middle" font-weight="normal" fill="#111" textLength="29.5" lengthAdjust="spacingAndGlyphs" style="stroke:#111;stroke-width:0.22">gDNA</text>
<polyline points="388.2,621.6 388.2,616 462.9,616 462.9,621.6" fill="none" stroke="#000" stroke-width="1.3"/>
<text x="405.30" y="612.00" font-size="10.2" text-anchor="start" font-weight="normal" fill="#111" textLength="39.6" lengthAdjust="spacingAndGlyphs" style="stroke:#111;stroke-width:0.22"><tspan font-style="italic">P</tspan>&lt;.000<tspan class="h1">1</tspan></text>
<rect x="0.75" y="0.75" width="518.5" height="805.5" fill="none" stroke="#000" stroke-width="1.5"/>
<path d="M45.55,74.20 L45.55,67.98 L43.79,69.12 L43.79,68.27 L45.63,67.11 L46.55,67.11 L46.55,74.20Z" fill="#111" style="stroke:#111;stroke-width:0.22"/>
<path d="M212.40,236.40 L212.40,230.18 L210.64,231.32 L210.64,230.47 L212.48,229.31 L213.40,229.31 L213.40,236.40Z" fill="#111" style="stroke:#111;stroke-width:0.22"/>
<path transform="translate(147.80,254.20) scale(0.6,1)" d="M9.72,0.00 L9.72,-7.31 L7.60,-5.99 L7.60,-7.38 L9.81,-8.81 L11.47,-8.81 L11.47,0.00Z M17.89,0.00 L17.89,-7.31 L15.77,-5.99 L15.77,-7.38 L17.98,-8.81 L19.64,-8.81 L19.64,0.00Z" fill="#111" style="stroke:#111;stroke-width:0.45"/>
<path transform="translate(35.90,142.40) rotate(-90) scale(0.6,1)" d="M-25.42,0.00 L-25.42,-7.54 L-27.60,-6.18 L-27.60,-7.61 L-25.32,-9.08 L-23.61,-9.08 L-23.61,0.00Z M-17.23,0.00 L-17.23,-7.54 L-19.41,-6.18 L-19.41,-7.61 L-17.13,-9.08 L-15.42,-9.08 L-15.42,0.00Z" fill="#111" style="stroke:#111;stroke-width:0.45"/>
<path d="M208.90,135.80 L208.90,129.64 L207.21,130.77 L207.21,129.92 L208.98,128.78 L209.86,128.78 L209.86,135.80Z" fill="#111" style="stroke:#111;stroke-width:0.22"/>
<path d="M481.62,47.50 L481.62,41.16 L479.99,42.32 L479.99,41.45 L481.69,40.28 L482.54,40.28 L482.54,47.50Z" fill="#fff"/>
<path d="M326.35,75.30 L326.35,69.08 L324.59,70.22 L324.59,69.37 L326.43,68.21 L327.35,68.21 L327.35,75.30Z" fill="#111" style="stroke:#111;stroke-width:0.22"/>
<path d="M332.65,100.03 L332.65,93.81 L330.89,94.95 L330.89,94.10 L332.73,92.94 L333.65,92.94 L333.65,100.03Z" fill="#111" style="stroke:#111;stroke-width:0.22"/>
<path d="M338.95,124.76 L338.95,118.54 L337.19,119.68 L337.19,118.83 L339.03,117.67 L339.95,117.67 L339.95,124.76Z" fill="#111" style="stroke:#111;stroke-width:0.22"/>
<path d="M338.95,149.49 L338.95,143.27 L337.19,144.41 L337.19,143.56 L339.03,142.40 L339.95,142.40 L339.95,149.49Z" fill="#111" style="stroke:#111;stroke-width:0.22"/>
<path d="M338.95,174.22 L338.95,168.00 L337.19,169.14 L337.19,168.29 L339.03,167.13 L339.95,167.13 L339.95,174.22Z" fill="#111" style="stroke:#111;stroke-width:0.22"/>
<path d="M338.95,198.95 L338.95,192.73 L337.18,193.87 L337.18,193.02 L339.03,191.86 L339.95,191.86 L339.95,198.95Z" fill="#111" style="stroke:#111;stroke-width:0.22"/>
<path d="M338.95,223.68 L338.95,217.46 L337.19,218.60 L337.19,217.75 L339.03,216.59 L339.95,216.59 L339.95,223.68Z" fill="#111" style="stroke:#111;stroke-width:0.22"/>
<path transform="translate(302.00,142.40) rotate(-90) scale(0.6,1)" d="M-25.17,0.00 L-25.17,-7.54 L-27.35,-6.18 L-27.35,-7.61 L-25.07,-9.08 L-23.36,-9.08 L-23.36,0.00Z M-17.05,0.00 L-17.05,-7.54 L-19.23,-6.18 L-19.23,-7.61 L-16.95,-9.08 L-15.24,-9.08 L-15.24,0.00Z" fill="#111" style="stroke:#111;stroke-width:0.45"/>
<path transform="translate(425.20,279.00) scale(0.6,1)" d="M-4.25,0.00 L-4.25,-7.31 L-6.36,-5.99 L-6.36,-7.38 L-4.16,-8.81 L-2.50,-8.81 L-2.50,0.00Z M4.06,0.00 L4.06,-7.31 L1.95,-5.99 L1.95,-7.38 L4.15,-8.81 L5.81,-8.81 L5.81,0.00Z" fill="#111" style="stroke:#111;stroke-width:0.45"/>
<path d="M45.55,359.00 L45.55,352.78 L43.79,353.92 L43.79,353.07 L45.63,351.91 L46.55,351.91 L46.55,359.00Z" fill="#111" style="stroke:#111;stroke-width:0.22"/>
<path d="M51.85,388.40 L51.85,382.18 L50.09,383.32 L50.09,382.47 L51.93,381.31 L52.85,381.31 L52.85,388.40Z" fill="#111" style="stroke:#111;stroke-width:0.22"/>
<path d="M58.15,417.80 L58.15,411.58 L56.39,412.72 L56.39,411.87 L58.23,410.71 L59.15,410.71 L59.15,417.80Z" fill="#111" style="stroke:#111;stroke-width:0.22"/>
<path d="M58.15,447.20 L58.15,440.98 L56.39,442.12 L56.39,441.27 L58.23,440.11 L59.15,440.11 L59.15,447.20Z" fill="#111" style="stroke:#111;stroke-width:0.22"/>
<path d="M58.15,476.60 L58.15,470.38 L56.39,471.52 L56.39,470.67 L58.23,469.51 L59.15,469.51 L59.15,476.60Z" fill="#111" style="stroke:#111;stroke-width:0.22"/>
<path d="M58.15,506.00 L58.15,499.78 L56.38,500.92 L56.38,500.07 L58.23,498.91 L59.15,498.91 L59.15,506.00Z" fill="#111" style="stroke:#111;stroke-width:0.22"/>
<path d="M231.35,359.00 L231.35,352.78 L229.59,353.92 L229.59,353.07 L231.43,351.91 L232.35,351.91 L232.35,359.00Z" fill="#111" style="stroke:#111;stroke-width:0.22"/>
<path transform="translate(86.30,516.00) rotate(-45)" d="M-27.84,0.00 L-27.84,-6.64 L-29.55,-5.42 L-29.55,-6.34 L-27.76,-7.57 L-26.87,-7.57 L-26.87,0.00Z" fill="#111" style="stroke:#111;stroke-width:0.22"/>
<path transform="translate(136.10,516.00) rotate(-45)" d="M-33.95,0.00 L-33.95,-6.64 L-35.66,-5.42 L-35.66,-6.34 L-33.87,-7.57 L-32.98,-7.57 L-32.98,0.00Z" fill="#111" style="stroke:#111;stroke-width:0.22"/>
<path transform="translate(186.00,516.00) rotate(-45)" d="M-40.08,0.00 L-40.08,-6.64 L-41.79,-5.42 L-41.79,-6.34 L-40.00,-7.57 L-39.11,-7.57 L-39.11,0.00Z" fill="#111" style="stroke:#111;stroke-width:0.22"/>
<path transform="translate(144.80,562.50) scale(0.6,1)" d="M85.34,0.00 L85.34,-7.31 L83.23,-5.99 L83.23,-7.38 L85.44,-8.81 L87.10,-8.81 L87.10,0.00Z" fill="#111" style="stroke:#111;stroke-width:0.45"/>
<path d="M327.15,356.30 L327.15,350.08 L325.39,351.22 L325.39,350.37 L327.23,349.21 L328.15,349.21 L328.15,356.30Z" fill="#111" style="stroke:#111;stroke-width:0.22"/>
<path d="M493.00,518.60 L493.00,512.38 L491.24,513.52 L491.24,512.67 L493.08,511.51 L494.00,511.51 L494.00,518.60Z" fill="#111" style="stroke:#111;stroke-width:0.22"/>
<path d="M441.76,402.30 L441.76,396.14 L440.05,397.27 L440.05,396.42 L441.84,395.28 L442.73,395.28 L442.73,402.30Z" fill="#111" style="stroke:#111;stroke-width:0.22"/>
<path d="M46.35,637.60 L46.35,631.38 L44.59,632.52 L44.59,631.67 L46.43,630.51 L47.35,630.51 L47.35,637.60Z" fill="#111" style="stroke:#111;stroke-width:0.22"/>
<path d="M52.65,662.05 L52.65,655.83 L50.89,656.97 L50.89,656.12 L52.73,654.96 L53.65,654.96 L53.65,662.05Z" fill="#111" style="stroke:#111;stroke-width:0.22"/>
<path d="M58.95,686.50 L58.95,680.28 L57.19,681.42 L57.19,680.57 L59.03,679.41 L59.95,679.41 L59.95,686.50Z" fill="#111" style="stroke:#111;stroke-width:0.22"/>
<path d="M58.95,710.95 L58.95,704.73 L57.19,705.87 L57.19,705.02 L59.03,703.86 L59.95,703.86 L59.95,710.95Z" fill="#111" style="stroke:#111;stroke-width:0.22"/>
<path d="M58.95,735.40 L58.95,729.18 L57.19,730.32 L57.19,729.47 L59.03,728.31 L59.95,728.31 L59.95,735.40Z" fill="#111" style="stroke:#111;stroke-width:0.22"/>
<path d="M58.95,759.85 L58.95,753.63 L57.18,754.77 L57.18,753.92 L59.03,752.76 L59.95,752.76 L59.95,759.85Z" fill="#111" style="stroke:#111;stroke-width:0.22"/>
<path d="M58.95,784.30 L58.95,778.08 L57.19,779.22 L57.19,778.37 L59.03,777.21 L59.95,777.21 L59.95,784.30Z" fill="#111" style="stroke:#111;stroke-width:0.22"/>
<path d="M143.84,612.00 L143.84,605.84 L142.14,606.97 L142.14,606.12 L143.92,604.98 L144.81,604.98 L144.81,612.00Z" fill="#111" style="stroke:#111;stroke-width:0.22"/>
<path d="M326.95,637.60 L326.95,631.38 L325.19,632.52 L325.19,631.67 L327.03,630.51 L327.95,630.51 L327.95,637.60Z" fill="#111" style="stroke:#111;stroke-width:0.22"/>
<path d="M333.25,662.05 L333.25,655.83 L331.49,656.97 L331.49,656.12 L333.33,654.96 L334.25,654.96 L334.25,662.05Z" fill="#111" style="stroke:#111;stroke-width:0.22"/>
<path d="M339.55,686.50 L339.55,680.28 L337.79,681.42 L337.79,680.57 L339.63,679.41 L340.55,679.41 L340.55,686.50Z" fill="#111" style="stroke:#111;stroke-width:0.22"/>
<path d="M339.55,710.95 L339.55,704.73 L337.79,705.87 L337.79,705.02 L339.63,703.86 L340.55,703.86 L340.55,710.95Z" fill="#111" style="stroke:#111;stroke-width:0.22"/>
<path d="M339.55,735.40 L339.55,729.18 L337.79,730.32 L337.79,729.47 L339.63,728.31 L340.55,728.31 L340.55,735.40Z" fill="#111" style="stroke:#111;stroke-width:0.22"/>
<path d="M339.55,759.85 L339.55,753.63 L337.78,754.77 L337.78,753.92 L339.63,752.76 L340.55,752.76 L340.55,759.85Z" fill="#111" style="stroke:#111;stroke-width:0.22"/>
<path d="M339.55,784.30 L339.55,778.08 L337.79,779.22 L337.79,778.37 L339.63,777.21 L340.55,777.21 L340.55,784.30Z" fill="#111" style="stroke:#111;stroke-width:0.22"/>
<path d="M441.68,612.00 L441.68,605.84 L440.04,606.97 L440.04,606.12 L441.76,604.98 L442.62,604.98 L442.62,612.00Z" fill="#111" style="stroke:#111;stroke-width:0.22"/>
</svg>
</body></html>
